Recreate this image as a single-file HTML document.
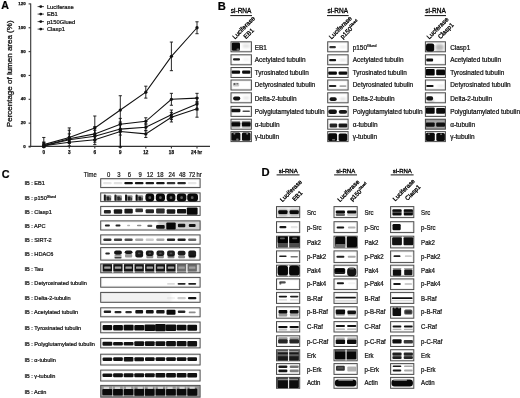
<!DOCTYPE html><html><head><meta charset="utf-8"><style>html,body{margin:0;padding:0;background:#fff;overflow:hidden;width:520px;height:398px;}svg{display:block;}text{font-family:"Liberation Sans", sans-serif;stroke:#111;stroke-width:0.22px;}</style></head><body>
<svg style="filter:blur(0.3px)" width="520" height="398" viewBox="0 0 520 398">
<defs><filter id="b1" x="-50%" y="-50%" width="200%" height="200%"><feGaussianBlur stdDeviation="0.6"/></filter><filter id="b2" x="-50%" y="-50%" width="200%" height="200%"><feGaussianBlur stdDeviation="0.9"/></filter><filter id="b3" x="-50%" y="-50%" width="200%" height="200%"><feGaussianBlur stdDeviation="1.3"/></filter><filter id="bt" x="-10%" y="-10%" width="120%" height="120%"><feGaussianBlur stdDeviation="0.25"/></filter></defs>
<rect width="520" height="398" fill="#fff"/>
<text x="1.2" y="9.2" font-size="10.6" font-weight="bold" text-anchor="start" fill="#000" >A</text>
<text x="217.7" y="9.8" font-size="11.2" font-weight="bold" text-anchor="start" fill="#000" >B</text>
<text x="1.8" y="178.0" font-size="10.8" font-weight="bold" text-anchor="start" fill="#000" >C</text>
<text x="261.5" y="175.8" font-size="11.2" font-weight="bold" text-anchor="start" fill="#000" >D</text>
<g stroke="#333" stroke-width="1.1" fill="none">
<line x1="30.7" y1="3.5" x2="30.7" y2="146.8"/>
<line x1="28.6" y1="146.4" x2="210" y2="146.4"/>
<line x1="28.6" y1="147.00" x2="30.7" y2="147.00"/>
<line x1="28.6" y1="123.15" x2="30.7" y2="123.15"/>
<line x1="28.6" y1="99.30" x2="30.7" y2="99.30"/>
<line x1="28.6" y1="75.45" x2="30.7" y2="75.45"/>
<line x1="28.6" y1="51.60" x2="30.7" y2="51.60"/>
<line x1="28.6" y1="27.75" x2="30.7" y2="27.75"/>
<line x1="28.6" y1="3.90" x2="30.7" y2="3.90"/>
<line x1="43.8" y1="146.4" x2="43.8" y2="148.4"/>
<line x1="69.3" y1="146.4" x2="69.3" y2="148.4"/>
<line x1="94.8" y1="146.4" x2="94.8" y2="148.4"/>
<line x1="120.3" y1="146.4" x2="120.3" y2="148.4"/>
<line x1="145.8" y1="146.4" x2="145.8" y2="148.4"/>
<line x1="171.4" y1="146.4" x2="171.4" y2="148.4"/>
<line x1="197.0" y1="146.4" x2="197.0" y2="148.4"/>
</g>
<text x="25.6" y="148.1" font-size="4.4" font-weight="bold" text-anchor="end" fill="#111" style="stroke-width:0.25px">0</text>
<text x="25.6" y="124.25" font-size="4.4" font-weight="bold" text-anchor="end" fill="#111" style="stroke-width:0.25px">20</text>
<text x="25.6" y="100.4" font-size="4.4" font-weight="bold" text-anchor="end" fill="#111" style="stroke-width:0.25px">40</text>
<text x="25.6" y="76.55" font-size="4.4" font-weight="bold" text-anchor="end" fill="#111" style="stroke-width:0.25px">60</text>
<text x="25.6" y="52.70000000000001" font-size="4.4" font-weight="bold" text-anchor="end" fill="#111" style="stroke-width:0.25px">80</text>
<text x="25.6" y="28.850000000000016" font-size="4.4" font-weight="bold" text-anchor="end" fill="#111" style="stroke-width:0.25px">100</text>
<text x="25.6" y="5.000000000000005" font-size="4.4" font-weight="bold" text-anchor="end" fill="#111" style="stroke-width:0.25px">120</text>
<text x="43.8" y="154.3" font-size="4.6" font-weight="bold" text-anchor="middle" fill="#111" style="stroke-width:0.25px">0</text>
<text x="69.3" y="154.3" font-size="4.6" font-weight="bold" text-anchor="middle" fill="#111" style="stroke-width:0.25px">3</text>
<text x="94.8" y="154.3" font-size="4.6" font-weight="bold" text-anchor="middle" fill="#111" style="stroke-width:0.25px">6</text>
<text x="120.3" y="154.3" font-size="4.6" font-weight="bold" text-anchor="middle" fill="#111" style="stroke-width:0.25px">9</text>
<text x="145.8" y="154.3" font-size="4.6" font-weight="bold" text-anchor="middle" fill="#111" style="stroke-width:0.25px">12</text>
<text x="171.4" y="154.3" font-size="4.6" font-weight="bold" text-anchor="middle" fill="#111" style="stroke-width:0.25px">18</text>
<text x="196.6" y="154.3" font-size="4.6" font-weight="bold" text-anchor="middle" fill="#111" style="stroke-width:0.25px">24 hr</text>
<text transform="translate(11.7,73.8) rotate(-90)" font-size="8" text-anchor="middle" fill="#111" style="stroke-width:0.3px">Percentage of lumen area (%)</text>
<line x1="37.6" y1="6.6" x2="44" y2="6.6" stroke="#222" stroke-width="0.8"/>
<circle cx="40.8" cy="6.6" r="1.45" fill="#111"/>
<text x="46.9" y="8.6" font-size="5.8" font-weight="normal" text-anchor="start" fill="#111" >Luciferase</text>
<line x1="37.6" y1="14.1" x2="44" y2="14.1" stroke="#222" stroke-width="0.8"/>
<circle cx="40.8" cy="14.1" r="1.45" fill="#111"/>
<text x="46.9" y="16.1" font-size="5.8" font-weight="normal" text-anchor="start" fill="#111" >EB1</text>
<line x1="37.6" y1="21.6" x2="44" y2="21.6" stroke="#222" stroke-width="0.8"/>
<circle cx="40.8" cy="21.6" r="1.45" fill="#111"/>
<text x="46.9" y="23.6" font-size="5.8" font-weight="normal" text-anchor="start" fill="#111" >p150Glued</text>
<line x1="37.6" y1="29.1" x2="44" y2="29.1" stroke="#222" stroke-width="0.8"/>
<circle cx="40.8" cy="29.1" r="1.45" fill="#111"/>
<text x="46.9" y="31.1" font-size="5.8" font-weight="normal" text-anchor="start" fill="#111" >Clasp1</text>
<path d="M43.8,144.62 L69.3,137.46 L94.8,127.92 L120.3,110.03 L145.8,92.15 L171.4,56.37 L197.0,27.75" stroke="#111" stroke-width="1.05" fill="none"/>
<g stroke="#111" stroke-width="0.9"><line x1="43.8" y1="137.46" x2="43.8" y2="147.00"/><line x1="42.199999999999996" y1="137.46" x2="45.4" y2="137.46"/><line x1="42.199999999999996" y1="147.00" x2="45.4" y2="147.00"/></g>
<circle cx="43.8" cy="144.62" r="1.65" fill="#111"/>
<g stroke="#111" stroke-width="0.9"><line x1="69.3" y1="127.92" x2="69.3" y2="142.23"/><line x1="67.7" y1="127.92" x2="70.89999999999999" y2="127.92"/><line x1="67.7" y1="142.23" x2="70.89999999999999" y2="142.23"/></g>
<circle cx="69.3" cy="137.46" r="1.65" fill="#111"/>
<g stroke="#111" stroke-width="0.9"><line x1="94.8" y1="116.00" x2="94.8" y2="139.84"/><line x1="93.2" y1="116.00" x2="96.39999999999999" y2="116.00"/><line x1="93.2" y1="139.84" x2="96.39999999999999" y2="139.84"/></g>
<circle cx="94.8" cy="127.92" r="1.65" fill="#111"/>
<g stroke="#111" stroke-width="0.9"><line x1="120.3" y1="95.72" x2="120.3" y2="147.00"/><line x1="118.7" y1="95.72" x2="121.89999999999999" y2="95.72"/><line x1="118.7" y1="147.00" x2="121.89999999999999" y2="147.00"/></g>
<circle cx="120.3" cy="110.03" r="1.65" fill="#111"/>
<g stroke="#111" stroke-width="0.9"><line x1="145.8" y1="86.18" x2="145.8" y2="98.11"/><line x1="144.20000000000002" y1="86.18" x2="147.4" y2="86.18"/><line x1="144.20000000000002" y1="98.11" x2="147.4" y2="98.11"/></g>
<circle cx="145.8" cy="92.15" r="1.65" fill="#111"/>
<g stroke="#111" stroke-width="0.9"><line x1="171.4" y1="42.06" x2="171.4" y2="70.68"/><line x1="169.8" y1="42.06" x2="173.0" y2="42.06"/><line x1="169.8" y1="70.68" x2="173.0" y2="70.68"/></g>
<circle cx="171.4" cy="56.37" r="1.65" fill="#111"/>
<g stroke="#111" stroke-width="0.9"><line x1="197.0" y1="21.79" x2="197.0" y2="33.71"/><line x1="195.4" y1="21.79" x2="198.6" y2="21.79"/><line x1="195.4" y1="33.71" x2="198.6" y2="33.71"/></g>
<circle cx="197.0" cy="27.75" r="1.65" fill="#111"/>
<path d="M43.8,145.81 L69.3,138.65 L94.8,133.88 L120.3,124.34 L145.8,121.36 L171.4,99.30 L197.0,98.11" stroke="#111" stroke-width="1.05" fill="none"/>
<g stroke="#111" stroke-width="0.9"><line x1="43.8" y1="142.23" x2="43.8" y2="147.00"/><line x1="42.199999999999996" y1="142.23" x2="45.4" y2="142.23"/><line x1="42.199999999999996" y1="147.00" x2="45.4" y2="147.00"/></g>
<circle cx="43.8" cy="145.81" r="1.65" fill="#111"/>
<g stroke="#111" stroke-width="0.9"><line x1="69.3" y1="130.31" x2="69.3" y2="142.23"/><line x1="67.7" y1="130.31" x2="70.89999999999999" y2="130.31"/><line x1="67.7" y1="142.23" x2="70.89999999999999" y2="142.23"/></g>
<circle cx="69.3" cy="138.65" r="1.65" fill="#111"/>
<g stroke="#111" stroke-width="0.9"><line x1="94.8" y1="126.73" x2="94.8" y2="139.84"/><line x1="93.2" y1="126.73" x2="96.39999999999999" y2="126.73"/><line x1="93.2" y1="139.84" x2="96.39999999999999" y2="139.84"/></g>
<circle cx="94.8" cy="133.88" r="1.65" fill="#111"/>
<g stroke="#111" stroke-width="0.9"><line x1="120.3" y1="118.38" x2="120.3" y2="130.31"/><line x1="118.7" y1="118.38" x2="121.89999999999999" y2="118.38"/><line x1="118.7" y1="130.31" x2="121.89999999999999" y2="130.31"/></g>
<circle cx="120.3" cy="124.34" r="1.65" fill="#111"/>
<g stroke="#111" stroke-width="0.9"><line x1="145.8" y1="117.78" x2="145.8" y2="124.94"/><line x1="144.20000000000002" y1="117.78" x2="147.4" y2="117.78"/><line x1="144.20000000000002" y1="124.94" x2="147.4" y2="124.94"/></g>
<circle cx="145.8" cy="121.36" r="1.65" fill="#111"/>
<g stroke="#111" stroke-width="0.9"><line x1="171.4" y1="93.34" x2="171.4" y2="105.26"/><line x1="169.8" y1="93.34" x2="173.0" y2="93.34"/><line x1="169.8" y1="105.26" x2="173.0" y2="105.26"/></g>
<circle cx="171.4" cy="99.30" r="1.65" fill="#111"/>
<g stroke="#111" stroke-width="0.9"><line x1="197.0" y1="93.34" x2="197.0" y2="102.88"/><line x1="195.4" y1="93.34" x2="198.6" y2="93.34"/><line x1="195.4" y1="102.88" x2="198.6" y2="102.88"/></g>
<circle cx="197.0" cy="98.11" r="1.65" fill="#111"/>
<path d="M43.8,145.81 L69.3,139.84 L94.8,136.27 L120.3,129.11 L145.8,127.32 L171.4,114.80 L197.0,104.07" stroke="#111" stroke-width="1.05" fill="none"/>
<g stroke="#111" stroke-width="0.9"><line x1="43.8" y1="142.23" x2="43.8" y2="147.00"/><line x1="42.199999999999996" y1="142.23" x2="45.4" y2="142.23"/><line x1="42.199999999999996" y1="147.00" x2="45.4" y2="147.00"/></g>
<circle cx="43.8" cy="145.81" r="1.65" fill="#111"/>
<g stroke="#111" stroke-width="0.9"><line x1="69.3" y1="133.88" x2="69.3" y2="143.42"/><line x1="67.7" y1="133.88" x2="70.89999999999999" y2="133.88"/><line x1="67.7" y1="143.42" x2="70.89999999999999" y2="143.42"/></g>
<circle cx="69.3" cy="139.84" r="1.65" fill="#111"/>
<g stroke="#111" stroke-width="0.9"><line x1="94.8" y1="130.31" x2="94.8" y2="142.23"/><line x1="93.2" y1="130.31" x2="96.39999999999999" y2="130.31"/><line x1="93.2" y1="142.23" x2="96.39999999999999" y2="142.23"/></g>
<circle cx="94.8" cy="136.27" r="1.65" fill="#111"/>
<g stroke="#111" stroke-width="0.9"><line x1="120.3" y1="123.15" x2="120.3" y2="135.07"/><line x1="118.7" y1="123.15" x2="121.89999999999999" y2="123.15"/><line x1="118.7" y1="135.07" x2="121.89999999999999" y2="135.07"/></g>
<circle cx="120.3" cy="129.11" r="1.65" fill="#111"/>
<g stroke="#111" stroke-width="0.9"><line x1="145.8" y1="123.75" x2="145.8" y2="130.90"/><line x1="144.20000000000002" y1="123.75" x2="147.4" y2="123.75"/><line x1="144.20000000000002" y1="130.90" x2="147.4" y2="130.90"/></g>
<circle cx="145.8" cy="127.32" r="1.65" fill="#111"/>
<g stroke="#111" stroke-width="0.9"><line x1="171.4" y1="110.03" x2="171.4" y2="119.57"/><line x1="169.8" y1="110.03" x2="173.0" y2="110.03"/><line x1="169.8" y1="119.57" x2="173.0" y2="119.57"/></g>
<circle cx="171.4" cy="114.80" r="1.65" fill="#111"/>
<g stroke="#111" stroke-width="0.9"><line x1="197.0" y1="98.11" x2="197.0" y2="110.03"/><line x1="195.4" y1="98.11" x2="198.6" y2="98.11"/><line x1="195.4" y1="110.03" x2="198.6" y2="110.03"/></g>
<circle cx="197.0" cy="104.07" r="1.65" fill="#111"/>
<path d="M43.8,145.81 L69.3,142.23 L94.8,139.84 L120.3,131.50 L145.8,133.88 L171.4,117.19 L197.0,108.84" stroke="#111" stroke-width="1.05" fill="none"/>
<g stroke="#111" stroke-width="0.9"><line x1="43.8" y1="143.42" x2="43.8" y2="147.00"/><line x1="42.199999999999996" y1="143.42" x2="45.4" y2="143.42"/><line x1="42.199999999999996" y1="147.00" x2="45.4" y2="147.00"/></g>
<circle cx="43.8" cy="145.81" r="1.65" fill="#111"/>
<g stroke="#111" stroke-width="0.9"><line x1="69.3" y1="137.46" x2="69.3" y2="145.81"/><line x1="67.7" y1="137.46" x2="70.89999999999999" y2="137.46"/><line x1="67.7" y1="145.81" x2="70.89999999999999" y2="145.81"/></g>
<circle cx="69.3" cy="142.23" r="1.65" fill="#111"/>
<g stroke="#111" stroke-width="0.9"><line x1="94.8" y1="135.07" x2="94.8" y2="144.62"/><line x1="93.2" y1="135.07" x2="96.39999999999999" y2="135.07"/><line x1="93.2" y1="144.62" x2="96.39999999999999" y2="144.62"/></g>
<circle cx="94.8" cy="139.84" r="1.65" fill="#111"/>
<g stroke="#111" stroke-width="0.9"><line x1="120.3" y1="121.96" x2="120.3" y2="147.00"/><line x1="118.7" y1="121.96" x2="121.89999999999999" y2="121.96"/><line x1="118.7" y1="147.00" x2="121.89999999999999" y2="147.00"/></g>
<circle cx="120.3" cy="131.50" r="1.65" fill="#111"/>
<g stroke="#111" stroke-width="0.9"><line x1="145.8" y1="130.31" x2="145.8" y2="137.46"/><line x1="144.20000000000002" y1="130.31" x2="147.4" y2="130.31"/><line x1="144.20000000000002" y1="137.46" x2="147.4" y2="137.46"/></g>
<circle cx="145.8" cy="133.88" r="1.65" fill="#111"/>
<g stroke="#111" stroke-width="0.9"><line x1="171.4" y1="112.42" x2="171.4" y2="121.96"/><line x1="169.8" y1="112.42" x2="173.0" y2="112.42"/><line x1="169.8" y1="121.96" x2="173.0" y2="121.96"/></g>
<circle cx="171.4" cy="117.19" r="1.65" fill="#111"/>
<g stroke="#111" stroke-width="0.9"><line x1="197.0" y1="101.69" x2="197.0" y2="117.19"/><line x1="195.4" y1="101.69" x2="198.6" y2="101.69"/><line x1="195.4" y1="117.19" x2="198.6" y2="117.19"/></g>
<circle cx="197.0" cy="108.84" r="1.65" fill="#111"/>
<text x="230.79999999999998" y="13.1" font-size="6.5" font-weight="normal" text-anchor="start" fill="#000" style="stroke:#000;stroke-width:0.3px">si-RNA</text>
<line x1="230.29999999999998" y1="15.6" x2="251.99999999999997" y2="15.6" stroke="#111" stroke-width="1.0"/>
<text transform="translate(234.9,39.4) rotate(-45)" font-size="6.3" fill="#000" style="stroke:#000;stroke-width:0.3px">Luciferase</text>
<text transform="translate(246.0,39.2) rotate(-45)" font-size="6.3" fill="#000" style="stroke:#000;stroke-width:0.3px">EB1</text>
<rect x="231.00" y="41.80" width="20.40" height="10.00" fill="none" stroke="#4a4a4a" stroke-width="1.0"/>
<rect x="232.10" y="42.90" width="18.20" height="7.80" fill="none" stroke="#000" stroke-opacity="0.08" stroke-width="0.7"/>
<text x="254.70000000000002" y="49.5" font-size="6.45" font-weight="normal" text-anchor="start" fill="#111" >EB1</text>
<rect x="231.00" y="54.80" width="20.40" height="10.00" fill="none" stroke="#4a4a4a" stroke-width="1.0"/>
<rect x="232.10" y="55.90" width="18.20" height="7.80" fill="none" stroke="#000" stroke-opacity="0.08" stroke-width="0.7"/>
<text x="254.70000000000002" y="62.2" font-size="6.45" font-weight="normal" text-anchor="start" fill="#111" >Acetylated tubulin</text>
<rect x="231.00" y="67.50" width="20.40" height="10.00" fill="none" stroke="#4a4a4a" stroke-width="1.0"/>
<rect x="232.10" y="68.60" width="18.20" height="7.80" fill="none" stroke="#000" stroke-opacity="0.08" stroke-width="0.7"/>
<text x="254.70000000000002" y="74.69999999999999" font-size="6.45" font-weight="normal" text-anchor="start" fill="#111" >Tyrosinated tubulin</text>
<rect x="231.00" y="80.00" width="20.40" height="10.00" fill="none" stroke="#4a4a4a" stroke-width="1.0"/>
<rect x="232.10" y="81.10" width="18.20" height="7.80" fill="none" stroke="#000" stroke-opacity="0.08" stroke-width="0.7"/>
<text x="254.70000000000002" y="87.39999999999999" font-size="6.45" font-weight="normal" text-anchor="start" fill="#111" >Detyrosinated tubulin</text>
<rect x="231.00" y="92.80" width="20.40" height="10.00" fill="none" stroke="#4a4a4a" stroke-width="1.0"/>
<rect x="232.10" y="93.90" width="18.20" height="7.80" fill="none" stroke="#000" stroke-opacity="0.08" stroke-width="0.7"/>
<text x="254.70000000000002" y="100.7" font-size="6.45" font-weight="normal" text-anchor="start" fill="#111" >Delta-2-tubulin</text>
<rect x="231.00" y="106.40" width="20.40" height="10.00" fill="none" stroke="#4a4a4a" stroke-width="1.0"/>
<rect x="232.10" y="107.50" width="18.20" height="7.80" fill="none" stroke="#000" stroke-opacity="0.08" stroke-width="0.7"/>
<text x="254.70000000000002" y="113.6" font-size="6.45" font-weight="normal" text-anchor="start" fill="#111" >Polyglutamylated tubulin</text>
<rect x="231.00" y="119.20" width="20.40" height="10.00" fill="none" stroke="#4a4a4a" stroke-width="1.0"/>
<rect x="232.10" y="120.30" width="18.20" height="7.80" fill="none" stroke="#000" stroke-opacity="0.08" stroke-width="0.7"/>
<text x="254.70000000000002" y="126.99999999999999" font-size="6.45" font-weight="normal" text-anchor="start" fill="#111" >&#945;-tubulin</text>
<rect x="231.00" y="131.60" width="20.40" height="10.00" fill="none" stroke="#4a4a4a" stroke-width="1.0"/>
<rect x="232.10" y="132.70" width="18.20" height="7.80" fill="none" stroke="#000" stroke-opacity="0.08" stroke-width="0.7"/>
<text x="254.70000000000002" y="139.1" font-size="6.45" font-weight="normal" text-anchor="start" fill="#111" >&#947;-tubulin</text>
<text x="327.5" y="13.1" font-size="6.5" font-weight="normal" text-anchor="start" fill="#000" style="stroke:#000;stroke-width:0.3px">si-RNA</text>
<line x1="327.0" y1="15.6" x2="348.7" y2="15.6" stroke="#111" stroke-width="1.0"/>
<text transform="translate(331.6,39.4) rotate(-45)" font-size="6.3" fill="#000" style="stroke:#000;stroke-width:0.3px">Luciferase</text>
<text transform="translate(342.7,39.2) rotate(-45)" font-size="6.3" fill="#000" style="stroke:#000;stroke-width:0.3px">p150<tspan font-size="3.6" dy="-2.6">Glued</tspan></text>
<rect x="327.70" y="41.80" width="20.40" height="10.00" fill="none" stroke="#4a4a4a" stroke-width="1.0"/>
<rect x="328.80" y="42.90" width="18.20" height="7.80" fill="none" stroke="#000" stroke-opacity="0.08" stroke-width="0.7"/>
<text x="352.70000000000005" y="49.5" font-size="6.45" font-weight="normal" text-anchor="start" fill="#111" >p150<tspan font-size="3.6" dy="-2.6">Glued</tspan></text>
<rect x="327.70" y="54.80" width="20.40" height="10.00" fill="none" stroke="#4a4a4a" stroke-width="1.0"/>
<rect x="328.80" y="55.90" width="18.20" height="7.80" fill="none" stroke="#000" stroke-opacity="0.08" stroke-width="0.7"/>
<text x="352.70000000000005" y="62.2" font-size="6.45" font-weight="normal" text-anchor="start" fill="#111" >Acetylated tubulin</text>
<rect x="327.70" y="67.50" width="20.40" height="10.00" fill="none" stroke="#4a4a4a" stroke-width="1.0"/>
<rect x="328.80" y="68.60" width="18.20" height="7.80" fill="none" stroke="#000" stroke-opacity="0.08" stroke-width="0.7"/>
<text x="352.70000000000005" y="74.69999999999999" font-size="6.45" font-weight="normal" text-anchor="start" fill="#111" >Tyrosinated tubulin</text>
<rect x="327.70" y="80.00" width="20.40" height="10.00" fill="none" stroke="#4a4a4a" stroke-width="1.0"/>
<rect x="328.80" y="81.10" width="18.20" height="7.80" fill="none" stroke="#000" stroke-opacity="0.08" stroke-width="0.7"/>
<text x="352.70000000000005" y="87.39999999999999" font-size="6.45" font-weight="normal" text-anchor="start" fill="#111" >Detyrosinated tubulin</text>
<rect x="327.70" y="92.80" width="20.40" height="10.00" fill="none" stroke="#4a4a4a" stroke-width="1.0"/>
<rect x="328.80" y="93.90" width="18.20" height="7.80" fill="none" stroke="#000" stroke-opacity="0.08" stroke-width="0.7"/>
<text x="352.70000000000005" y="100.7" font-size="6.45" font-weight="normal" text-anchor="start" fill="#111" >Delta-2-tubulin</text>
<rect x="327.70" y="106.40" width="20.40" height="10.00" fill="none" stroke="#4a4a4a" stroke-width="1.0"/>
<rect x="328.80" y="107.50" width="18.20" height="7.80" fill="none" stroke="#000" stroke-opacity="0.08" stroke-width="0.7"/>
<text x="352.70000000000005" y="113.6" font-size="6.45" font-weight="normal" text-anchor="start" fill="#111" >Polyglutamylated tubulin</text>
<rect x="327.70" y="119.20" width="20.40" height="10.00" fill="none" stroke="#4a4a4a" stroke-width="1.0"/>
<rect x="328.80" y="120.30" width="18.20" height="7.80" fill="none" stroke="#000" stroke-opacity="0.08" stroke-width="0.7"/>
<text x="352.70000000000005" y="126.99999999999999" font-size="6.45" font-weight="normal" text-anchor="start" fill="#111" >&#945;-tubulin</text>
<rect x="327.70" y="131.60" width="20.40" height="10.00" fill="none" stroke="#4a4a4a" stroke-width="1.0"/>
<rect x="328.80" y="132.70" width="18.20" height="7.80" fill="none" stroke="#000" stroke-opacity="0.08" stroke-width="0.7"/>
<text x="352.70000000000005" y="139.1" font-size="6.45" font-weight="normal" text-anchor="start" fill="#111" >&#947;-tubulin</text>
<text x="425.2" y="13.1" font-size="6.5" font-weight="normal" text-anchor="start" fill="#000" style="stroke:#000;stroke-width:0.3px">si-RNA</text>
<line x1="424.7" y1="15.6" x2="446.0" y2="15.6" stroke="#111" stroke-width="1.0"/>
<text transform="translate(429.3,39.4) rotate(-45)" font-size="6.3" fill="#000" style="stroke:#000;stroke-width:0.3px">Lucferase</text>
<text transform="translate(440.4,39.2) rotate(-45)" font-size="6.3" fill="#000" style="stroke:#000;stroke-width:0.3px">Clasp1</text>
<rect x="425.40" y="41.80" width="20.00" height="10.00" fill="none" stroke="#4a4a4a" stroke-width="1.0"/>
<rect x="426.50" y="42.90" width="17.80" height="7.80" fill="none" stroke="#000" stroke-opacity="0.08" stroke-width="0.7"/>
<text x="450.2" y="49.5" font-size="6.45" font-weight="normal" text-anchor="start" fill="#111" >Clasp1</text>
<rect x="425.40" y="54.80" width="20.00" height="10.00" fill="none" stroke="#4a4a4a" stroke-width="1.0"/>
<rect x="426.50" y="55.90" width="17.80" height="7.80" fill="none" stroke="#000" stroke-opacity="0.08" stroke-width="0.7"/>
<text x="450.2" y="62.2" font-size="6.45" font-weight="normal" text-anchor="start" fill="#111" >Acetylated tubulin</text>
<rect x="425.40" y="67.50" width="20.00" height="10.00" fill="none" stroke="#4a4a4a" stroke-width="1.0"/>
<rect x="426.50" y="68.60" width="17.80" height="7.80" fill="none" stroke="#000" stroke-opacity="0.08" stroke-width="0.7"/>
<text x="450.2" y="74.69999999999999" font-size="6.45" font-weight="normal" text-anchor="start" fill="#111" >Tyrosinated tubulin</text>
<rect x="425.40" y="80.00" width="20.00" height="10.00" fill="none" stroke="#4a4a4a" stroke-width="1.0"/>
<rect x="426.50" y="81.10" width="17.80" height="7.80" fill="none" stroke="#000" stroke-opacity="0.08" stroke-width="0.7"/>
<text x="450.2" y="87.39999999999999" font-size="6.45" font-weight="normal" text-anchor="start" fill="#111" >Detyrosinated tubulin</text>
<rect x="425.40" y="92.80" width="20.00" height="10.00" fill="none" stroke="#4a4a4a" stroke-width="1.0"/>
<rect x="426.50" y="93.90" width="17.80" height="7.80" fill="none" stroke="#000" stroke-opacity="0.08" stroke-width="0.7"/>
<text x="450.2" y="100.7" font-size="6.45" font-weight="normal" text-anchor="start" fill="#111" >Delta-2-tubulin</text>
<rect x="425.40" y="106.40" width="20.00" height="10.00" fill="none" stroke="#4a4a4a" stroke-width="1.0"/>
<rect x="426.50" y="107.50" width="17.80" height="7.80" fill="none" stroke="#000" stroke-opacity="0.08" stroke-width="0.7"/>
<text x="450.2" y="113.6" font-size="6.45" font-weight="normal" text-anchor="start" fill="#111" >Polyglutamylated tubulin</text>
<rect x="425.40" y="119.20" width="20.00" height="10.00" fill="none" stroke="#4a4a4a" stroke-width="1.0"/>
<rect x="426.50" y="120.30" width="17.80" height="7.80" fill="none" stroke="#000" stroke-opacity="0.08" stroke-width="0.7"/>
<text x="450.2" y="126.99999999999999" font-size="6.45" font-weight="normal" text-anchor="start" fill="#111" >&#945;-tubulin</text>
<rect x="425.40" y="131.60" width="20.00" height="10.00" fill="none" stroke="#4a4a4a" stroke-width="1.0"/>
<rect x="426.50" y="132.70" width="17.80" height="7.80" fill="none" stroke="#000" stroke-opacity="0.08" stroke-width="0.7"/>
<text x="450.2" y="139.1" font-size="6.45" font-weight="normal" text-anchor="start" fill="#111" >&#947;-tubulin</text>
<rect x="100.70" y="178.70" width="99.40" height="8.90" fill="none" stroke="#4a4a4a" stroke-width="1.0"/>
<rect x="101.80" y="179.80" width="97.20" height="6.70" fill="none" stroke="#000" stroke-opacity="0.08" stroke-width="0.7"/>
<text x="24.4" y="185.4" font-size="5.6" font-weight="normal" text-anchor="start" fill="#111" >IB : EB1</text>
<rect x="100.70" y="192.90" width="99.40" height="8.70" fill="none" stroke="#4a4a4a" stroke-width="1.0"/>
<rect x="101.80" y="194.00" width="97.20" height="6.50" fill="none" stroke="#000" stroke-opacity="0.08" stroke-width="0.7"/>
<text x="24.4" y="199.79999999999998" font-size="5.6" font-weight="normal" text-anchor="start" fill="#111" >IB : p150<tspan font-size="3.4" dy="-2.2">Glued</tspan></text>
<rect x="100.70" y="206.40" width="99.40" height="9.00" fill="none" stroke="#4a4a4a" stroke-width="1.0"/>
<rect x="101.80" y="207.50" width="97.20" height="6.80" fill="none" stroke="#000" stroke-opacity="0.08" stroke-width="0.7"/>
<text x="24.4" y="213.5" font-size="5.6" font-weight="normal" text-anchor="start" fill="#111" >IB : Clasp1</text>
<rect x="100.70" y="220.90" width="99.40" height="9.10" fill="none" stroke="#4a4a4a" stroke-width="1.0"/>
<rect x="101.80" y="222.00" width="97.20" height="6.90" fill="none" stroke="#000" stroke-opacity="0.08" stroke-width="0.7"/>
<text x="24.4" y="227.7" font-size="5.6" font-weight="normal" text-anchor="start" fill="#111" >IB : APC</text>
<rect x="100.70" y="234.90" width="99.40" height="9.30" fill="none" stroke="#4a4a4a" stroke-width="1.0"/>
<rect x="101.80" y="236.00" width="97.20" height="7.10" fill="none" stroke="#000" stroke-opacity="0.08" stroke-width="0.7"/>
<text x="24.4" y="241.6" font-size="5.6" font-weight="normal" text-anchor="start" fill="#111" >IB : SIRT-2</text>
<rect x="100.70" y="247.60" width="99.40" height="12.50" fill="none" stroke="#4a4a4a" stroke-width="1.0"/>
<rect x="101.80" y="248.70" width="97.20" height="10.30" fill="none" stroke="#000" stroke-opacity="0.08" stroke-width="0.7"/>
<text x="24.4" y="255.79999999999998" font-size="5.6" font-weight="normal" text-anchor="start" fill="#111" >IB : HDAC6</text>
<rect x="100.70" y="263.90" width="99.40" height="8.90" fill="none" stroke="#4a4a4a" stroke-width="1.0"/>
<rect x="101.80" y="265.00" width="97.20" height="6.70" fill="none" stroke="#000" stroke-opacity="0.08" stroke-width="0.7"/>
<text x="24.4" y="271.20000000000005" font-size="5.6" font-weight="normal" text-anchor="start" fill="#111" >IB : Tau</text>
<rect x="100.70" y="277.40" width="99.40" height="9.80" fill="none" stroke="#4a4a4a" stroke-width="1.0"/>
<rect x="101.80" y="278.50" width="97.20" height="7.60" fill="none" stroke="#000" stroke-opacity="0.08" stroke-width="0.7"/>
<text x="24.4" y="284.6" font-size="5.6" font-weight="normal" text-anchor="start" fill="#111" >IB : Detyrosinated tubulin</text>
<rect x="100.70" y="292.40" width="99.40" height="9.90" fill="none" stroke="#4a4a4a" stroke-width="1.0"/>
<rect x="101.80" y="293.50" width="97.20" height="7.70" fill="none" stroke="#000" stroke-opacity="0.08" stroke-width="0.7"/>
<text x="24.4" y="300.20000000000005" font-size="5.6" font-weight="normal" text-anchor="start" fill="#111" >IB : Delta-2-tubulin</text>
<rect x="100.70" y="307.80" width="99.40" height="9.00" fill="none" stroke="#4a4a4a" stroke-width="1.0"/>
<rect x="101.80" y="308.90" width="97.20" height="6.80" fill="none" stroke="#000" stroke-opacity="0.08" stroke-width="0.7"/>
<text x="24.4" y="313.90000000000003" font-size="5.6" font-weight="normal" text-anchor="start" fill="#111" >IB : Acetylated tubulin</text>
<rect x="100.70" y="322.00" width="99.40" height="10.80" fill="none" stroke="#4a4a4a" stroke-width="1.0"/>
<rect x="101.80" y="323.10" width="97.20" height="8.60" fill="none" stroke="#000" stroke-opacity="0.08" stroke-width="0.7"/>
<text x="24.4" y="329.90000000000003" font-size="5.6" font-weight="normal" text-anchor="start" fill="#111" >IB : Tyrosinated tubulin</text>
<rect x="100.70" y="338.40" width="99.40" height="9.50" fill="none" stroke="#4a4a4a" stroke-width="1.0"/>
<rect x="101.80" y="339.50" width="97.20" height="7.30" fill="none" stroke="#000" stroke-opacity="0.08" stroke-width="0.7"/>
<text x="24.4" y="346.40000000000003" font-size="5.6" font-weight="normal" text-anchor="start" fill="#111" >IB : Polyglutamylated tubulin</text>
<rect x="100.70" y="354.20" width="99.40" height="10.80" fill="none" stroke="#4a4a4a" stroke-width="1.0"/>
<rect x="101.80" y="355.30" width="97.20" height="8.60" fill="none" stroke="#000" stroke-opacity="0.08" stroke-width="0.7"/>
<text x="24.4" y="361.6" font-size="5.6" font-weight="normal" text-anchor="start" fill="#111" >IB : &#945;-tubulin</text>
<rect x="100.70" y="370.10" width="99.40" height="10.90" fill="none" stroke="#4a4a4a" stroke-width="1.0"/>
<rect x="101.80" y="371.20" width="97.20" height="8.70" fill="none" stroke="#000" stroke-opacity="0.08" stroke-width="0.7"/>
<text x="24.4" y="377.6" font-size="5.6" font-weight="normal" text-anchor="start" fill="#111" >IB : &#947;-tubulin</text>
<rect x="100.70" y="385.40" width="99.40" height="11.80" fill="none" stroke="#4a4a4a" stroke-width="1.0"/>
<rect x="101.80" y="386.50" width="97.20" height="9.60" fill="none" stroke="#000" stroke-opacity="0.08" stroke-width="0.7"/>
<text x="24.4" y="393.6" font-size="5.6" font-weight="normal" text-anchor="start" fill="#111" >IB : Actin</text>
<text transform="translate(90.30,176.5) scale(0.78,1)" font-size="7.6" text-anchor="middle" fill="#111">Time</text>
<text transform="translate(108.60,176.5) scale(0.78,1)" font-size="7.6" text-anchor="middle" fill="#111">0</text>
<text transform="translate(118.90,176.5) scale(0.78,1)" font-size="7.6" text-anchor="middle" fill="#111">3</text>
<text transform="translate(129.30,176.5) scale(0.78,1)" font-size="7.6" text-anchor="middle" fill="#111">6</text>
<text transform="translate(140.10,176.5) scale(0.78,1)" font-size="7.6" text-anchor="middle" fill="#111">9</text>
<text transform="translate(150.00,176.5) scale(0.78,1)" font-size="7.6" text-anchor="middle" fill="#111">12</text>
<text transform="translate(160.30,176.5) scale(0.78,1)" font-size="7.6" text-anchor="middle" fill="#111">18</text>
<text transform="translate(171.70,176.5) scale(0.78,1)" font-size="7.6" text-anchor="middle" fill="#111">24</text>
<text transform="translate(182.20,176.5) scale(0.78,1)" font-size="7.6" text-anchor="middle" fill="#111">48</text>
<text transform="translate(192.10,176.5) scale(0.78,1)" font-size="7.6" text-anchor="middle" fill="#111">72</text>
<text transform="translate(199.00,176.5) scale(0.78,1)" font-size="7.6" text-anchor="middle" fill="#111">hr</text>
<text x="278.70000000000005" y="173.2" font-size="6.0" font-weight="normal" text-anchor="start" fill="#000" style="stroke:#000;stroke-width:0.32px">si-RNA</text>
<line x1="276.6" y1="174.9" x2="299.5" y2="174.9" stroke="#111" stroke-width="1.0"/>
<text transform="translate(282.40000000000003,202.2) rotate(-45)" font-size="6.1" fill="#000" style="stroke:#000;stroke-width:0.3px">Luciferase</text>
<text transform="translate(294.70000000000005,201.6) rotate(-45)" font-size="6.1" fill="#000" style="stroke:#000;stroke-width:0.3px">EB1</text>
<rect x="276.50" y="206.60" width="23.20" height="11.00" fill="none" stroke="#4a4a4a" stroke-width="1.0"/>
<rect x="277.60" y="207.70" width="21.00" height="8.80" fill="none" stroke="#000" stroke-opacity="0.08" stroke-width="0.7"/>
<text transform="translate(307.00,215.00) scale(0.92,1)" font-size="6.6" fill="#111">Src</text>
<rect x="276.50" y="221.70" width="23.20" height="10.90" fill="none" stroke="#4a4a4a" stroke-width="1.0"/>
<rect x="277.60" y="222.80" width="21.00" height="8.70" fill="none" stroke="#000" stroke-opacity="0.08" stroke-width="0.7"/>
<text transform="translate(307.00,230.15) scale(0.92,1)" font-size="6.6" fill="#111">p-Src</text>
<rect x="276.50" y="236.20" width="23.20" height="11.70" fill="none" stroke="#4a4a4a" stroke-width="1.0"/>
<rect x="277.60" y="237.30" width="21.00" height="9.50" fill="none" stroke="#000" stroke-opacity="0.08" stroke-width="0.7"/>
<text transform="translate(307.00,244.95) scale(0.92,1)" font-size="6.6" fill="#111">Pak2</text>
<rect x="276.50" y="250.90" width="23.20" height="11.70" fill="none" stroke="#4a4a4a" stroke-width="1.0"/>
<rect x="277.60" y="252.00" width="21.00" height="9.50" fill="none" stroke="#000" stroke-opacity="0.08" stroke-width="0.7"/>
<text transform="translate(307.00,259.35) scale(0.92,1)" font-size="6.6" fill="#111">p-Pak2</text>
<rect x="276.50" y="265.20" width="23.20" height="11.00" fill="none" stroke="#4a4a4a" stroke-width="1.0"/>
<rect x="277.60" y="266.30" width="21.00" height="8.80" fill="none" stroke="#000" stroke-opacity="0.08" stroke-width="0.7"/>
<text transform="translate(307.00,273.40) scale(0.92,1)" font-size="6.6" fill="#111">Pak4</text>
<rect x="276.50" y="278.90" width="23.20" height="10.70" fill="none" stroke="#4a4a4a" stroke-width="1.0"/>
<rect x="277.60" y="280.00" width="21.00" height="8.50" fill="none" stroke="#000" stroke-opacity="0.08" stroke-width="0.7"/>
<text transform="translate(307.00,286.35) scale(0.92,1)" font-size="6.6" fill="#111">p-Pak4</text>
<rect x="276.50" y="292.40" width="23.20" height="11.00" fill="none" stroke="#4a4a4a" stroke-width="1.0"/>
<rect x="277.60" y="293.50" width="21.00" height="8.80" fill="none" stroke="#000" stroke-opacity="0.08" stroke-width="0.7"/>
<text transform="translate(307.00,300.50) scale(0.92,1)" font-size="6.6" fill="#111">B-Raf</text>
<rect x="276.50" y="306.80" width="23.20" height="11.40" fill="none" stroke="#4a4a4a" stroke-width="1.0"/>
<rect x="277.60" y="307.90" width="21.00" height="9.20" fill="none" stroke="#000" stroke-opacity="0.08" stroke-width="0.7"/>
<text transform="translate(307.00,314.30) scale(0.92,1)" font-size="6.6" fill="#111">p-B-Raf</text>
<rect x="276.50" y="321.60" width="23.20" height="10.40" fill="none" stroke="#4a4a4a" stroke-width="1.0"/>
<rect x="277.60" y="322.70" width="21.00" height="8.20" fill="none" stroke="#000" stroke-opacity="0.08" stroke-width="0.7"/>
<text transform="translate(307.00,329.40) scale(0.92,1)" font-size="6.6" fill="#111">C-Raf</text>
<rect x="276.50" y="335.80" width="23.20" height="10.70" fill="none" stroke="#4a4a4a" stroke-width="1.0"/>
<rect x="277.60" y="336.90" width="21.00" height="8.50" fill="none" stroke="#000" stroke-opacity="0.08" stroke-width="0.7"/>
<text transform="translate(307.00,343.65) scale(0.92,1)" font-size="6.6" fill="#111">p-C-Raf</text>
<rect x="276.50" y="349.70" width="23.20" height="11.10" fill="none" stroke="#4a4a4a" stroke-width="1.0"/>
<rect x="277.60" y="350.80" width="21.00" height="8.90" fill="none" stroke="#000" stroke-opacity="0.08" stroke-width="0.7"/>
<text transform="translate(307.00,357.75) scale(0.92,1)" font-size="6.6" fill="#111">Erk</text>
<rect x="276.50" y="363.60" width="23.20" height="10.80" fill="none" stroke="#4a4a4a" stroke-width="1.0"/>
<rect x="277.60" y="364.70" width="21.00" height="8.60" fill="none" stroke="#000" stroke-opacity="0.08" stroke-width="0.7"/>
<text transform="translate(307.00,371.50) scale(0.92,1)" font-size="6.6" fill="#111">p-Erk</text>
<rect x="276.50" y="377.40" width="23.20" height="10.90" fill="none" stroke="#4a4a4a" stroke-width="1.0"/>
<rect x="277.60" y="378.50" width="21.00" height="8.70" fill="none" stroke="#000" stroke-opacity="0.08" stroke-width="0.7"/>
<text transform="translate(307.00,385.35) scale(0.92,1)" font-size="6.6" fill="#111">Actin</text>
<text x="336.20000000000005" y="173.2" font-size="6.0" font-weight="normal" text-anchor="start" fill="#000" style="stroke:#000;stroke-width:0.32px">si-RNA</text>
<line x1="334.1" y1="174.9" x2="357.0" y2="174.9" stroke="#111" stroke-width="1.0"/>
<text transform="translate(339.90000000000003,202.2) rotate(-45)" font-size="6.1" fill="#000" style="stroke:#000;stroke-width:0.3px">Luciferase</text>
<text transform="translate(352.20000000000005,201.6) rotate(-45)" font-size="6.1" fill="#000" style="stroke:#000;stroke-width:0.3px">p150<tspan font-size="3.6" dy="-2.6">Glued</tspan></text>
<rect x="334.00" y="206.60" width="23.20" height="11.00" fill="none" stroke="#4a4a4a" stroke-width="1.0"/>
<rect x="335.10" y="207.70" width="21.00" height="8.80" fill="none" stroke="#000" stroke-opacity="0.08" stroke-width="0.7"/>
<text transform="translate(364.50,215.00) scale(0.92,1)" font-size="6.6" fill="#111">Src</text>
<rect x="334.00" y="221.70" width="23.20" height="10.90" fill="none" stroke="#4a4a4a" stroke-width="1.0"/>
<rect x="335.10" y="222.80" width="21.00" height="8.70" fill="none" stroke="#000" stroke-opacity="0.08" stroke-width="0.7"/>
<text transform="translate(364.50,230.15) scale(0.92,1)" font-size="6.6" fill="#111">p-Src</text>
<rect x="334.00" y="236.20" width="23.20" height="11.70" fill="none" stroke="#4a4a4a" stroke-width="1.0"/>
<rect x="335.10" y="237.30" width="21.00" height="9.50" fill="none" stroke="#000" stroke-opacity="0.08" stroke-width="0.7"/>
<text transform="translate(364.50,244.95) scale(0.92,1)" font-size="6.6" fill="#111">Pak2</text>
<rect x="334.00" y="250.90" width="23.20" height="11.70" fill="none" stroke="#4a4a4a" stroke-width="1.0"/>
<rect x="335.10" y="252.00" width="21.00" height="9.50" fill="none" stroke="#000" stroke-opacity="0.08" stroke-width="0.7"/>
<text transform="translate(364.50,259.35) scale(0.92,1)" font-size="6.6" fill="#111">p-Pak2</text>
<rect x="334.00" y="265.20" width="23.20" height="11.00" fill="none" stroke="#4a4a4a" stroke-width="1.0"/>
<rect x="335.10" y="266.30" width="21.00" height="8.80" fill="none" stroke="#000" stroke-opacity="0.08" stroke-width="0.7"/>
<text transform="translate(364.50,273.40) scale(0.92,1)" font-size="6.6" fill="#111">Pak4</text>
<rect x="334.00" y="278.90" width="23.20" height="10.70" fill="none" stroke="#4a4a4a" stroke-width="1.0"/>
<rect x="335.10" y="280.00" width="21.00" height="8.50" fill="none" stroke="#000" stroke-opacity="0.08" stroke-width="0.7"/>
<text transform="translate(364.50,286.35) scale(0.92,1)" font-size="6.6" fill="#111">p-Pak4</text>
<rect x="334.00" y="292.40" width="23.20" height="11.00" fill="none" stroke="#4a4a4a" stroke-width="1.0"/>
<rect x="335.10" y="293.50" width="21.00" height="8.80" fill="none" stroke="#000" stroke-opacity="0.08" stroke-width="0.7"/>
<text transform="translate(364.50,300.50) scale(0.92,1)" font-size="6.6" fill="#111">B-Raf</text>
<rect x="334.00" y="306.80" width="23.20" height="11.40" fill="none" stroke="#4a4a4a" stroke-width="1.0"/>
<rect x="335.10" y="307.90" width="21.00" height="9.20" fill="none" stroke="#000" stroke-opacity="0.08" stroke-width="0.7"/>
<text transform="translate(364.50,314.30) scale(0.92,1)" font-size="6.6" fill="#111">p-B-Raf</text>
<rect x="334.00" y="321.60" width="23.20" height="10.40" fill="none" stroke="#4a4a4a" stroke-width="1.0"/>
<rect x="335.10" y="322.70" width="21.00" height="8.20" fill="none" stroke="#000" stroke-opacity="0.08" stroke-width="0.7"/>
<text transform="translate(364.50,329.40) scale(0.92,1)" font-size="6.6" fill="#111">C-Raf</text>
<rect x="334.00" y="335.80" width="23.20" height="10.70" fill="none" stroke="#4a4a4a" stroke-width="1.0"/>
<rect x="335.10" y="336.90" width="21.00" height="8.50" fill="none" stroke="#000" stroke-opacity="0.08" stroke-width="0.7"/>
<text transform="translate(364.50,343.65) scale(0.92,1)" font-size="6.6" fill="#111">p-C-Raf</text>
<rect x="334.00" y="349.70" width="23.20" height="11.10" fill="none" stroke="#4a4a4a" stroke-width="1.0"/>
<rect x="335.10" y="350.80" width="21.00" height="8.90" fill="none" stroke="#000" stroke-opacity="0.08" stroke-width="0.7"/>
<text transform="translate(364.50,357.75) scale(0.92,1)" font-size="6.6" fill="#111">Erk</text>
<rect x="334.00" y="363.60" width="23.20" height="10.80" fill="none" stroke="#4a4a4a" stroke-width="1.0"/>
<rect x="335.10" y="364.70" width="21.00" height="8.60" fill="none" stroke="#000" stroke-opacity="0.08" stroke-width="0.7"/>
<text transform="translate(364.50,371.50) scale(0.92,1)" font-size="6.6" fill="#111">p-Erk</text>
<rect x="334.00" y="377.40" width="23.20" height="10.90" fill="none" stroke="#4a4a4a" stroke-width="1.0"/>
<rect x="335.10" y="378.50" width="21.00" height="8.70" fill="none" stroke="#000" stroke-opacity="0.08" stroke-width="0.7"/>
<text transform="translate(364.50,385.35) scale(0.92,1)" font-size="6.6" fill="#111">Actin</text>
<text x="392.8" y="173.2" font-size="6.0" font-weight="normal" text-anchor="start" fill="#000" style="stroke:#000;stroke-width:0.32px">si-RNA</text>
<line x1="390.7" y1="174.9" x2="413.59999999999997" y2="174.9" stroke="#111" stroke-width="1.0"/>
<text transform="translate(395.3,201.39999999999998) rotate(-45)" font-size="6.1" fill="#000" style="stroke:#000;stroke-width:0.3px">Luciferase</text>
<text transform="translate(407.6,200.79999999999998) rotate(-45)" font-size="6.1" fill="#000" style="stroke:#000;stroke-width:0.3px">Clasp1</text>
<rect x="390.60" y="206.60" width="23.20" height="11.00" fill="none" stroke="#4a4a4a" stroke-width="1.0"/>
<rect x="391.70" y="207.70" width="21.00" height="8.80" fill="none" stroke="#000" stroke-opacity="0.08" stroke-width="0.7"/>
<text transform="translate(421.10,215.00) scale(0.92,1)" font-size="6.6" fill="#111">Src</text>
<rect x="390.60" y="221.70" width="23.20" height="10.90" fill="none" stroke="#4a4a4a" stroke-width="1.0"/>
<rect x="391.70" y="222.80" width="21.00" height="8.70" fill="none" stroke="#000" stroke-opacity="0.08" stroke-width="0.7"/>
<text transform="translate(421.10,230.15) scale(0.92,1)" font-size="6.6" fill="#111">p-Src</text>
<rect x="390.60" y="236.20" width="23.20" height="11.70" fill="none" stroke="#4a4a4a" stroke-width="1.0"/>
<rect x="391.70" y="237.30" width="21.00" height="9.50" fill="none" stroke="#000" stroke-opacity="0.08" stroke-width="0.7"/>
<text transform="translate(421.10,244.95) scale(0.92,1)" font-size="6.6" fill="#111">Pak2</text>
<rect x="390.60" y="250.90" width="23.20" height="11.70" fill="none" stroke="#4a4a4a" stroke-width="1.0"/>
<rect x="391.70" y="252.00" width="21.00" height="9.50" fill="none" stroke="#000" stroke-opacity="0.08" stroke-width="0.7"/>
<text transform="translate(421.10,259.35) scale(0.92,1)" font-size="6.6" fill="#111">p-Pak2</text>
<rect x="390.60" y="265.20" width="23.20" height="11.00" fill="none" stroke="#4a4a4a" stroke-width="1.0"/>
<rect x="391.70" y="266.30" width="21.00" height="8.80" fill="none" stroke="#000" stroke-opacity="0.08" stroke-width="0.7"/>
<text transform="translate(421.10,273.40) scale(0.92,1)" font-size="6.6" fill="#111">Pak4</text>
<rect x="390.60" y="278.90" width="23.20" height="10.70" fill="none" stroke="#4a4a4a" stroke-width="1.0"/>
<rect x="391.70" y="280.00" width="21.00" height="8.50" fill="none" stroke="#000" stroke-opacity="0.08" stroke-width="0.7"/>
<text transform="translate(421.10,286.35) scale(0.92,1)" font-size="6.6" fill="#111">p-Pak4</text>
<rect x="390.60" y="292.40" width="23.20" height="11.00" fill="none" stroke="#4a4a4a" stroke-width="1.0"/>
<rect x="391.70" y="293.50" width="21.00" height="8.80" fill="none" stroke="#000" stroke-opacity="0.08" stroke-width="0.7"/>
<text transform="translate(421.10,300.50) scale(0.92,1)" font-size="6.6" fill="#111">B-Raf</text>
<rect x="390.60" y="306.80" width="23.20" height="11.40" fill="none" stroke="#4a4a4a" stroke-width="1.0"/>
<rect x="391.70" y="307.90" width="21.00" height="9.20" fill="none" stroke="#000" stroke-opacity="0.08" stroke-width="0.7"/>
<text transform="translate(421.10,314.30) scale(0.92,1)" font-size="6.6" fill="#111">p-B-Raf</text>
<rect x="390.60" y="321.60" width="23.20" height="10.40" fill="none" stroke="#4a4a4a" stroke-width="1.0"/>
<rect x="391.70" y="322.70" width="21.00" height="8.20" fill="none" stroke="#000" stroke-opacity="0.08" stroke-width="0.7"/>
<text transform="translate(421.10,329.40) scale(0.92,1)" font-size="6.6" fill="#111">C-Raf</text>
<rect x="390.60" y="335.80" width="23.20" height="10.70" fill="none" stroke="#4a4a4a" stroke-width="1.0"/>
<rect x="391.70" y="336.90" width="21.00" height="8.50" fill="none" stroke="#000" stroke-opacity="0.08" stroke-width="0.7"/>
<text transform="translate(421.10,343.65) scale(0.92,1)" font-size="6.6" fill="#111">p-C-Raf</text>
<rect x="390.60" y="349.70" width="23.20" height="11.10" fill="none" stroke="#4a4a4a" stroke-width="1.0"/>
<rect x="391.70" y="350.80" width="21.00" height="8.90" fill="none" stroke="#000" stroke-opacity="0.08" stroke-width="0.7"/>
<text transform="translate(421.10,357.75) scale(0.92,1)" font-size="6.6" fill="#111">Erk</text>
<rect x="390.60" y="363.60" width="23.20" height="10.80" fill="none" stroke="#4a4a4a" stroke-width="1.0"/>
<rect x="391.70" y="364.70" width="21.00" height="8.60" fill="none" stroke="#000" stroke-opacity="0.08" stroke-width="0.7"/>
<text transform="translate(421.10,371.50) scale(0.92,1)" font-size="6.6" fill="#111">p-Erk</text>
<rect x="390.60" y="377.40" width="23.20" height="10.90" fill="none" stroke="#4a4a4a" stroke-width="1.0"/>
<rect x="391.70" y="378.50" width="21.00" height="8.70" fill="none" stroke="#000" stroke-opacity="0.08" stroke-width="0.7"/>
<text transform="translate(421.10,385.35) scale(0.92,1)" font-size="6.6" fill="#111">Actin</text>
<rect x="231.80" y="42.60" width="8.20" height="8.20" rx="1.20" fill="#000" fill-opacity="0.97" filter="url(#b1)"/>
<rect x="236.50" y="48.40" width="3.20" height="2.20" rx="1.00" fill="#fff" fill-opacity="0.35" filter="url(#b1)"/>
<rect x="242.70" y="44.00" width="7.00" height="4.00" rx="1.00" fill="#000" fill-opacity="0.1" filter="url(#b2)"/>
<rect x="233.00" y="58.20" width="7.00" height="2.30" rx="1.00" fill="#000" fill-opacity="0.9" filter="url(#b1)"/>
<rect x="242.70" y="58.50" width="7.00" height="2.00" rx="1.00" fill="#000" fill-opacity="0.07" filter="url(#b2)"/>
<rect x="231.70" y="70.50" width="8.40" height="3.20" rx="1.00" fill="#000" fill-opacity="0.97" filter="url(#b1)"/>
<rect x="242.10" y="70.50" width="8.20" height="3.20" rx="1.00" fill="#000" fill-opacity="0.95" filter="url(#b1)"/>
<rect x="233.00" y="82.80" width="6.20" height="3.60" rx="1.00" fill="#000" fill-opacity="0.22" filter="url(#b1)"/>
<rect x="233.50" y="83.00" width="2.00" height="2.00" rx="0.80" fill="#000" fill-opacity="0.55" filter="url(#b1)"/>
<rect x="236.30" y="82.90" width="2.00" height="1.70" rx="0.80" fill="#000" fill-opacity="0.45" filter="url(#b1)"/>
<rect x="233.10" y="96.40" width="7.20" height="4.00" rx="1.80" fill="#000" fill-opacity="0.92" filter="url(#b1)"/>
<rect x="243.20" y="96.50" width="6.00" height="3.00" rx="1.00" fill="#000" fill-opacity="0.1" filter="url(#b2)"/>
<rect x="231.40" y="108.80" width="9.00" height="3.40" rx="1.00" fill="#000" fill-opacity="0.92" filter="url(#b1)"/>
<rect x="242.45" y="110.40" width="7.50" height="1.60" rx="0.80" fill="#000" fill-opacity="0.7" filter="url(#b1)"/>
<rect x="231.40" y="121.00" width="9.00" height="6.60" rx="1.00" fill="#000" fill-opacity="0.45" filter="url(#b1)"/>
<rect x="241.70" y="121.00" width="9.00" height="6.60" rx="1.00" fill="#000" fill-opacity="0.45" filter="url(#b1)"/>
<rect x="231.60" y="122.30" width="8.60" height="4.00" rx="1.00" fill="#000" fill-opacity="0.95" filter="url(#b1)"/>
<rect x="241.90" y="122.30" width="8.60" height="4.00" rx="1.00" fill="#000" fill-opacity="0.95" filter="url(#b1)"/>
<rect x="231.40" y="132.40" width="9.00" height="8.40" rx="1.50" fill="#000" fill-opacity="0.95" filter="url(#b1)"/>
<rect x="241.90" y="132.40" width="8.60" height="8.40" rx="1.50" fill="#000" fill-opacity="0.95" filter="url(#b1)"/>
<rect x="233.40" y="133.00" width="2.00" height="1.40" rx="0.60" fill="#fff" fill-opacity="0.5" filter="url(#b1)"/>
<rect x="246.20" y="133.00" width="2.00" height="1.40" rx="0.60" fill="#fff" fill-opacity="0.5" filter="url(#b1)"/>
<rect x="236.15" y="138.60" width="2.50" height="1.80" rx="0.60" fill="#fff" fill-opacity="0.4" filter="url(#b1)"/>
<rect x="329.30" y="45.90" width="6.60" height="2.40" rx="1.00" fill="#000" fill-opacity="0.8" filter="url(#b1)"/>
<rect x="339.40" y="46.00" width="7.00" height="2.00" rx="1.00" fill="#000" fill-opacity="0.08" filter="url(#b2)"/>
<rect x="329.10" y="58.90" width="7.00" height="2.30" rx="1.00" fill="#000" fill-opacity="0.92" filter="url(#b1)"/>
<rect x="339.40" y="59.00" width="7.00" height="2.00" rx="1.00" fill="#000" fill-opacity="0.12" filter="url(#b2)"/>
<rect x="328.30" y="71.60" width="8.60" height="3.10" rx="1.00" fill="#000" fill-opacity="0.97" filter="url(#b1)"/>
<rect x="338.60" y="71.60" width="8.60" height="3.10" rx="1.00" fill="#000" fill-opacity="0.95" filter="url(#b1)"/>
<rect x="328.85" y="85.00" width="7.50" height="2.10" rx="1.00" fill="#000" fill-opacity="0.85" filter="url(#b1)"/>
<rect x="339.40" y="85.20" width="7.00" height="1.80" rx="0.90" fill="#000" fill-opacity="0.35" filter="url(#b1)"/>
<rect x="329.50" y="97.20" width="7.20" height="3.80" rx="1.80" fill="#000" fill-opacity="0.92" filter="url(#b1)"/>
<rect x="339.90" y="97.50" width="6.00" height="3.00" rx="1.00" fill="#000" fill-opacity="0.12" filter="url(#b2)"/>
<rect x="328.30" y="109.60" width="8.60" height="4.40" rx="2.00" fill="#000" fill-opacity="0.93" filter="url(#b1)"/>
<rect x="338.70" y="109.90" width="8.40" height="3.90" rx="2.00" fill="#000" fill-opacity="0.9" filter="url(#b1)"/>
<rect x="329.65" y="123.60" width="7.50" height="4.00" rx="1.00" fill="#000" fill-opacity="0.85" filter="url(#b1)"/>
<rect x="338.60" y="123.60" width="8.60" height="4.00" rx="1.00" fill="#000" fill-opacity="0.9" filter="url(#b1)"/>
<rect x="328.10" y="133.20" width="9.00" height="7.80" rx="1.50" fill="#000" fill-opacity="0.96" filter="url(#b1)"/>
<rect x="338.60" y="133.40" width="8.60" height="7.60" rx="1.50" fill="#000" fill-opacity="0.96" filter="url(#b1)"/>
<rect x="332.10" y="139.00" width="3.00" height="1.60" rx="0.60" fill="#fff" fill-opacity="0.4" filter="url(#b1)"/>
<rect x="426.00" y="43.40" width="8.20" height="8.00" rx="2.00" fill="#000" fill-opacity="0.97" filter="url(#b1)"/>
<rect x="435.60" y="44.20" width="8.00" height="6.20" rx="2.00" fill="#000" fill-opacity="0.28" filter="url(#b2)"/>
<rect x="426.30" y="58.50" width="6.80" height="3.10" rx="1.00" fill="#000" fill-opacity="0.95" filter="url(#b1)"/>
<rect x="425.90" y="69.00" width="8.80" height="6.40" rx="1.00" fill="#000" fill-opacity="0.98" filter="url(#b1)"/>
<rect x="436.20" y="69.40" width="8.80" height="5.90" rx="1.00" fill="#000" fill-opacity="0.97" filter="url(#b1)"/>
<rect x="426.20" y="84.90" width="7.40" height="2.20" rx="1.00" fill="#000" fill-opacity="0.92" filter="url(#b1)"/>
<rect x="437.10" y="85.00" width="7.00" height="2.00" rx="1.00" fill="#000" fill-opacity="0.1" filter="url(#b2)"/>
<rect x="426.30" y="96.30" width="6.80" height="4.30" rx="1.80" fill="#000" fill-opacity="0.92" filter="url(#b1)"/>
<rect x="427.30" y="100.00" width="7.00" height="2.00" rx="1.00" fill="#000" fill-opacity="0.25" filter="url(#b2)"/>
<rect x="425.90" y="107.50" width="8.80" height="6.30" rx="1.00" fill="#000" fill-opacity="0.96" filter="url(#b1)"/>
<rect x="436.20" y="108.00" width="8.80" height="5.80" rx="1.00" fill="#000" fill-opacity="0.95" filter="url(#b1)"/>
<rect x="425.5" y="119.3" width="19.8" height="9.8" fill="#000" fill-opacity="0.35" filter="url(#b1)"/>
<rect x="425.90" y="122.40" width="8.80" height="4.40" rx="1.00" fill="#000" fill-opacity="0.9" filter="url(#b1)"/>
<rect x="436.20" y="122.40" width="8.80" height="4.40" rx="1.00" fill="#000" fill-opacity="0.9" filter="url(#b1)"/>
<rect x="425.80" y="132.80" width="9.00" height="8.20" rx="1.50" fill="#000" fill-opacity="0.96" filter="url(#b1)"/>
<rect x="436.30" y="133.00" width="8.60" height="8.00" rx="1.50" fill="#000" fill-opacity="0.96" filter="url(#b1)"/>
<rect x="427.80" y="133.40" width="2.00" height="1.40" rx="0.60" fill="#fff" fill-opacity="0.5" filter="url(#b1)"/>
<rect x="440.10" y="133.40" width="2.00" height="1.40" rx="0.60" fill="#fff" fill-opacity="0.5" filter="url(#b1)"/>
<rect x="103.10" y="182.00" width="8.60" height="2.20" rx="1.00" fill="#000" fill-opacity="0.1" filter="url(#b1)"/>
<rect x="113.70" y="182.00" width="8.60" height="2.20" rx="1.00" fill="#000" fill-opacity="0.12" filter="url(#b1)"/>
<rect x="124.30" y="182.00" width="8.60" height="2.20" rx="1.00" fill="#000" fill-opacity="0.95" filter="url(#b1)"/>
<rect x="134.90" y="182.00" width="8.60" height="2.20" rx="1.00" fill="#000" fill-opacity="0.92" filter="url(#b1)"/>
<rect x="145.50" y="182.00" width="8.60" height="2.20" rx="1.00" fill="#000" fill-opacity="0.9" filter="url(#b1)"/>
<rect x="156.10" y="182.00" width="8.60" height="2.20" rx="1.00" fill="#000" fill-opacity="0.92" filter="url(#b1)"/>
<rect x="166.70" y="182.00" width="8.60" height="2.20" rx="1.00" fill="#000" fill-opacity="0.8" filter="url(#b1)"/>
<rect x="177.30" y="182.00" width="8.60" height="2.20" rx="1.00" fill="#000" fill-opacity="0.85" filter="url(#b1)"/>
<rect x="187.90" y="182.00" width="8.60" height="2.20" rx="1.00" fill="#000" fill-opacity="0.1" filter="url(#b1)"/>
<rect x="104.10" y="195.20" width="7.20" height="5.60" rx="1.00" fill="#000" fill-opacity="0.45" filter="url(#b1)"/>
<rect x="103.80" y="194.40" width="2.00" height="6.40" rx="0.60" fill="#000" fill-opacity="0.85" filter="url(#b1)"/>
<rect x="106.70" y="196.60" width="2.60" height="4.00" rx="0.60" fill="#000" fill-opacity="0.75" filter="url(#b1)"/>
<rect x="109.50" y="197.60" width="1.40" height="3.00" rx="0.50" fill="#000" fill-opacity="0.6" filter="url(#b1)"/>
<rect x="114.70" y="195.20" width="7.20" height="5.60" rx="1.00" fill="#000" fill-opacity="0.45" filter="url(#b1)"/>
<rect x="114.40" y="194.40" width="2.00" height="6.40" rx="0.60" fill="#000" fill-opacity="0.8" filter="url(#b1)"/>
<rect x="117.30" y="196.60" width="2.60" height="4.00" rx="0.60" fill="#000" fill-opacity="0.7000000000000001" filter="url(#b1)"/>
<rect x="120.10" y="197.60" width="1.40" height="3.00" rx="0.50" fill="#000" fill-opacity="0.6" filter="url(#b1)"/>
<rect x="125.30" y="195.20" width="7.20" height="5.60" rx="1.00" fill="#000" fill-opacity="0.45" filter="url(#b1)"/>
<rect x="125.00" y="194.40" width="2.00" height="6.40" rx="0.60" fill="#000" fill-opacity="0.85" filter="url(#b1)"/>
<rect x="127.90" y="196.60" width="2.60" height="4.00" rx="0.60" fill="#000" fill-opacity="0.75" filter="url(#b1)"/>
<rect x="130.70" y="197.60" width="1.40" height="3.00" rx="0.50" fill="#000" fill-opacity="0.6" filter="url(#b1)"/>
<rect x="135.90" y="195.20" width="7.20" height="5.60" rx="1.00" fill="#000" fill-opacity="0.45" filter="url(#b1)"/>
<rect x="135.60" y="194.40" width="2.00" height="6.40" rx="0.60" fill="#000" fill-opacity="0.92" filter="url(#b1)"/>
<rect x="138.50" y="196.60" width="2.60" height="4.00" rx="0.60" fill="#000" fill-opacity="0.8200000000000001" filter="url(#b1)"/>
<rect x="141.30" y="197.60" width="1.40" height="3.00" rx="0.50" fill="#000" fill-opacity="0.6" filter="url(#b1)"/>
<rect x="145.40" y="193.60" width="8.80" height="8.00" rx="3.00" fill="#000" fill-opacity="0.96" filter="url(#b1)"/>
<rect x="148.50" y="196.30" width="2.60" height="2.70" rx="1.00" fill="#fff" fill-opacity="0.35" filter="url(#b1)"/>
<rect x="155.80" y="193.60" width="9.20" height="8.00" rx="3.00" fill="#000" fill-opacity="0.96" filter="url(#b1)"/>
<rect x="159.10" y="196.30" width="2.60" height="2.70" rx="1.00" fill="#fff" fill-opacity="0.35" filter="url(#b1)"/>
<rect x="166.60" y="193.60" width="8.80" height="8.00" rx="3.00" fill="#000" fill-opacity="0.96" filter="url(#b1)"/>
<rect x="169.70" y="196.30" width="2.60" height="2.70" rx="1.00" fill="#fff" fill-opacity="0.35" filter="url(#b1)"/>
<rect x="176.80" y="193.60" width="9.60" height="8.00" rx="3.00" fill="#000" fill-opacity="0.96" filter="url(#b1)"/>
<rect x="180.30" y="196.30" width="2.60" height="2.70" rx="1.00" fill="#fff" fill-opacity="0.35" filter="url(#b1)"/>
<rect x="187.20" y="193.60" width="10.80" height="8.00" rx="3.00" fill="#000" fill-opacity="0.96" filter="url(#b1)"/>
<rect x="190.90" y="196.30" width="2.60" height="2.70" rx="1.00" fill="#fff" fill-opacity="0.35" filter="url(#b1)"/>
<rect x="103.90" y="209.95" width="7.00" height="3.50" rx="1.00" fill="#000" fill-opacity="0.85" filter="url(#b1)"/>
<rect x="113.80" y="209.20" width="8.40" height="4.60" rx="1.00" fill="#000" fill-opacity="0.9" filter="url(#b1)"/>
<rect x="124.40" y="208.80" width="8.40" height="4.80" rx="1.00" fill="#000" fill-opacity="0.9" filter="url(#b1)"/>
<rect x="135.40" y="208.60" width="7.60" height="3.60" rx="1.00" fill="#000" fill-opacity="0.8" filter="url(#b1)"/>
<rect x="145.60" y="209.20" width="8.40" height="4.00" rx="1.00" fill="#000" fill-opacity="0.85" filter="url(#b1)"/>
<rect x="156.10" y="208.50" width="8.60" height="5.00" rx="1.00" fill="#000" fill-opacity="0.82" filter="url(#b1)"/>
<rect x="166.70" y="209.30" width="8.60" height="4.40" rx="1.00" fill="#000" fill-opacity="0.9" filter="url(#b1)"/>
<rect x="177.00" y="208.90" width="9.20" height="4.60" rx="1.00" fill="#000" fill-opacity="0.92" filter="url(#b1)"/>
<rect x="186.80" y="207.60" width="10.80" height="7.20" rx="1.00" fill="#000" fill-opacity="0.97" filter="url(#b1)"/>
<rect x="158" y="221.2" width="42" height="8.6" fill="#000" fill-opacity="0.18" filter="url(#b2)"/>
<rect x="104.90" y="224.60" width="5.00" height="1.80" rx="0.90" fill="#000" fill-opacity="0.88" filter="url(#b1)"/>
<rect x="115.50" y="224.60" width="5.00" height="1.80" rx="0.90" fill="#000" fill-opacity="0.85" filter="url(#b1)"/>
<rect x="127.10" y="224.80" width="3.00" height="1.40" rx="0.70" fill="#000" fill-opacity="0.3" filter="url(#b1)"/>
<rect x="136.95" y="224.70" width="4.50" height="1.60" rx="0.80" fill="#000" fill-opacity="0.45" filter="url(#b1)"/>
<rect x="147.30" y="224.80" width="5.00" height="2.20" rx="1.00" fill="#000" fill-opacity="0.65" filter="url(#b1)"/>
<rect x="156.10" y="225.00" width="8.60" height="3.80" rx="1.00" fill="#000" fill-opacity="0.92" filter="url(#b1)"/>
<rect x="166.30" y="222.40" width="9.40" height="7.00" rx="1.00" fill="#000" fill-opacity="0.97" filter="url(#b1)"/>
<rect x="177.90" y="223.70" width="7.40" height="3.60" rx="1.00" fill="#000" fill-opacity="0.9" filter="url(#b1)"/>
<rect x="188.80" y="224.00" width="6.80" height="3.00" rx="1.00" fill="#000" fill-opacity="0.9" filter="url(#b1)"/>
<rect x="103.30" y="238.40" width="8.20" height="2.60" rx="1.00" fill="#000" fill-opacity="0.8" filter="url(#b1)"/>
<rect x="113.90" y="238.40" width="8.20" height="2.60" rx="1.00" fill="#000" fill-opacity="0.75" filter="url(#b1)"/>
<rect x="124.50" y="238.40" width="8.20" height="2.60" rx="1.00" fill="#000" fill-opacity="0.7" filter="url(#b1)"/>
<rect x="135.10" y="238.40" width="8.20" height="2.60" rx="1.00" fill="#000" fill-opacity="0.35" filter="url(#b1)"/>
<rect x="145.70" y="238.40" width="8.20" height="2.60" rx="1.00" fill="#000" fill-opacity="0.2" filter="url(#b1)"/>
<rect x="156.30" y="238.40" width="8.20" height="2.60" rx="1.00" fill="#000" fill-opacity="0.35" filter="url(#b1)"/>
<rect x="166.90" y="238.40" width="8.20" height="2.60" rx="1.00" fill="#000" fill-opacity="0.85" filter="url(#b1)"/>
<rect x="177.50" y="238.40" width="8.20" height="2.60" rx="1.00" fill="#000" fill-opacity="0.88" filter="url(#b1)"/>
<rect x="188.10" y="238.40" width="8.20" height="2.60" rx="1.00" fill="#000" fill-opacity="0.6" filter="url(#b1)"/>
<rect x="105.30" y="252.60" width="4.60" height="2.00" rx="1.00" fill="#000" fill-opacity="0.85" filter="url(#b1)"/>
<rect x="114.10" y="250.60" width="7.80" height="4.20" rx="2.00" fill="#000" fill-opacity="0.92" filter="url(#b1)"/>
<rect x="124.70" y="250.60" width="7.80" height="3.40" rx="2.00" fill="#000" fill-opacity="0.9" filter="url(#b1)"/>
<rect x="135.30" y="250.20" width="7.80" height="7.40" rx="2.00" fill="#000" fill-opacity="0.9" filter="url(#b1)"/>
<rect x="145.90" y="250.40" width="7.80" height="5.60" rx="2.00" fill="#000" fill-opacity="0.9" filter="url(#b1)"/>
<rect x="156.50" y="250.40" width="7.80" height="5.60" rx="2.00" fill="#000" fill-opacity="0.88" filter="url(#b1)"/>
<rect x="167.10" y="250.60" width="7.80" height="6.00" rx="2.00" fill="#000" fill-opacity="0.88" filter="url(#b1)"/>
<rect x="177.70" y="250.80" width="7.80" height="4.60" rx="2.00" fill="#000" fill-opacity="0.88" filter="url(#b1)"/>
<rect x="188.30" y="250.60" width="7.80" height="6.60" rx="2.00" fill="#000" fill-opacity="0.9" filter="url(#b1)"/>
<rect x="114.30" y="255.00" width="7.40" height="1.80" rx="1.00" fill="#000" fill-opacity="0.4" filter="url(#b1)"/>
<rect x="114.30" y="257.00" width="7.40" height="1.60" rx="1.00" fill="#000" fill-opacity="0.75" filter="url(#b1)"/>
<rect x="125.00" y="254.00" width="7.20" height="3.60" rx="1.00" fill="#000" fill-opacity="0.4" filter="url(#b1)"/>
<rect x="146.30" y="255.50" width="7.00" height="2.70" rx="1.00" fill="#000" fill-opacity="0.45" filter="url(#b1)"/>
<rect x="156.90" y="255.50" width="7.00" height="2.70" rx="1.00" fill="#000" fill-opacity="0.45" filter="url(#b1)"/>
<rect x="167.50" y="255.50" width="7.00" height="2.70" rx="1.00" fill="#000" fill-opacity="0.45" filter="url(#b1)"/>
<rect x="178.10" y="255.50" width="7.00" height="2.70" rx="1.00" fill="#000" fill-opacity="0.45" filter="url(#b1)"/>
<rect x="188.70" y="255.50" width="7.00" height="2.70" rx="1.00" fill="#000" fill-opacity="0.45" filter="url(#b1)"/>
<rect x="137.90" y="252.60" width="2.60" height="1.60" rx="0.80" fill="#fff" fill-opacity="0.2" filter="url(#b1)"/>
<rect x="148.50" y="252.60" width="2.60" height="1.60" rx="0.80" fill="#fff" fill-opacity="0.2" filter="url(#b1)"/>
<rect x="159.10" y="252.60" width="2.60" height="1.60" rx="0.80" fill="#fff" fill-opacity="0.2" filter="url(#b1)"/>
<rect x="169.70" y="252.60" width="2.60" height="1.60" rx="0.80" fill="#fff" fill-opacity="0.2" filter="url(#b1)"/>
<rect x="100.89999999999999" y="263.9" width="99.0" height="9" fill="#000" fill-opacity="0.15" filter="url(#b1)"/>
<rect x="102.70" y="264.20" width="9.40" height="7.20" rx="0.60" fill="#000" fill-opacity="0.9" filter="url(#b1)"/>
<rect x="104.20" y="266.40" width="6.40" height="2.40" rx="0.50" fill="#fff" fill-opacity="0.6" filter="url(#b1)"/>
<rect x="112.15" y="264" width="1.3" height="8.8" fill="#fff" fill-opacity="0.9" filter="url(#bt)"/>
<rect x="113.30" y="264.20" width="9.40" height="7.20" rx="0.60" fill="#000" fill-opacity="0.9" filter="url(#b1)"/>
<rect x="114.80" y="266.40" width="6.40" height="2.40" rx="0.50" fill="#fff" fill-opacity="0.6" filter="url(#b1)"/>
<rect x="122.75" y="264" width="1.3" height="8.8" fill="#fff" fill-opacity="0.9" filter="url(#bt)"/>
<rect x="123.90" y="264.20" width="9.40" height="7.20" rx="0.60" fill="#000" fill-opacity="0.9" filter="url(#b1)"/>
<rect x="125.40" y="266.40" width="6.40" height="2.40" rx="0.50" fill="#fff" fill-opacity="0.6" filter="url(#b1)"/>
<rect x="133.35" y="264" width="1.3" height="8.8" fill="#fff" fill-opacity="0.9" filter="url(#bt)"/>
<rect x="134.50" y="264.20" width="9.40" height="7.20" rx="0.60" fill="#000" fill-opacity="0.9" filter="url(#b1)"/>
<rect x="136.00" y="266.40" width="6.40" height="2.40" rx="0.50" fill="#fff" fill-opacity="0.6" filter="url(#b1)"/>
<rect x="143.95" y="264" width="1.3" height="8.8" fill="#fff" fill-opacity="0.9" filter="url(#bt)"/>
<rect x="145.10" y="264.20" width="9.40" height="7.20" rx="0.60" fill="#000" fill-opacity="0.9" filter="url(#b1)"/>
<rect x="146.60" y="266.40" width="6.40" height="2.40" rx="0.50" fill="#fff" fill-opacity="0.6" filter="url(#b1)"/>
<rect x="154.55" y="264" width="1.3" height="8.8" fill="#fff" fill-opacity="0.9" filter="url(#bt)"/>
<rect x="155.70" y="264.20" width="9.40" height="7.20" rx="0.60" fill="#000" fill-opacity="0.9" filter="url(#b1)"/>
<rect x="157.20" y="266.40" width="6.40" height="2.40" rx="0.50" fill="#fff" fill-opacity="0.6" filter="url(#b1)"/>
<rect x="165.15" y="264" width="1.3" height="8.8" fill="#fff" fill-opacity="0.9" filter="url(#bt)"/>
<rect x="166.30" y="264.20" width="9.40" height="7.20" rx="0.60" fill="#000" fill-opacity="0.9" filter="url(#b1)"/>
<rect x="167.80" y="266.40" width="6.40" height="2.40" rx="0.50" fill="#fff" fill-opacity="0.6" filter="url(#b1)"/>
<rect x="175.75" y="264" width="1.3" height="8.8" fill="#fff" fill-opacity="0.9" filter="url(#bt)"/>
<rect x="176.90" y="264.20" width="9.40" height="7.20" rx="0.60" fill="#000" fill-opacity="0.5" filter="url(#b1)"/>
<rect x="178.40" y="266.40" width="6.40" height="2.40" rx="0.50" fill="#fff" fill-opacity="0.35" filter="url(#b1)"/>
<rect x="186.35" y="264" width="1.3" height="8.8" fill="#fff" fill-opacity="0.9" filter="url(#bt)"/>
<rect x="187.50" y="264.20" width="9.40" height="7.20" rx="0.60" fill="#000" fill-opacity="0.5" filter="url(#b1)"/>
<rect x="189.00" y="266.40" width="6.40" height="2.40" rx="0.50" fill="#fff" fill-opacity="0.35" filter="url(#b1)"/>
<rect x="167.00" y="282.90" width="8.00" height="1.90" rx="0.95" fill="#000" fill-opacity="0.15" filter="url(#b1)"/>
<rect x="177.60" y="282.90" width="8.00" height="1.90" rx="0.95" fill="#000" fill-opacity="0.85" filter="url(#b1)"/>
<rect x="188.20" y="282.90" width="8.00" height="1.90" rx="0.95" fill="#000" fill-opacity="0.88" filter="url(#b1)"/>
<rect x="101.3" y="293" width="70" height="9" fill="#000" fill-opacity="0.05" filter="url(#b2)"/>
<rect x="166.80" y="296.90" width="8.40" height="2.30" rx="1.00" fill="#000" fill-opacity="0.05" filter="url(#b1)"/>
<rect x="177.40" y="296.90" width="8.40" height="2.30" rx="1.00" fill="#000" fill-opacity="0.2" filter="url(#b1)"/>
<rect x="188.00" y="296.90" width="8.40" height="2.30" rx="1.00" fill="#000" fill-opacity="0.92" filter="url(#b1)"/>
<rect x="103.70" y="310.50" width="7.40" height="2.60" rx="1.00" fill="#000" fill-opacity="0.88" filter="url(#b1)"/>
<rect x="114.50" y="310.90" width="7.00" height="2.40" rx="1.00" fill="#000" fill-opacity="0.85" filter="url(#b1)"/>
<rect x="125.30" y="311.10" width="6.60" height="2.20" rx="1.00" fill="#000" fill-opacity="0.82" filter="url(#b1)"/>
<rect x="135.30" y="310.10" width="7.80" height="3.40" rx="1.00" fill="#000" fill-opacity="0.92" filter="url(#b1)"/>
<rect x="145.90" y="310.10" width="7.80" height="3.40" rx="1.00" fill="#000" fill-opacity="0.92" filter="url(#b1)"/>
<rect x="156.20" y="310.10" width="8.40" height="3.40" rx="1.00" fill="#000" fill-opacity="0.9" filter="url(#b1)"/>
<rect x="166.50" y="309.70" width="9.00" height="5.00" rx="1.00" fill="#000" fill-opacity="0.96" filter="url(#b1)"/>
<rect x="177.80" y="310.50" width="7.60" height="2.60" rx="1.00" fill="#000" fill-opacity="0.85" filter="url(#b1)"/>
<rect x="188.70" y="311.60" width="7.00" height="1.60" rx="0.80" fill="#000" fill-opacity="0.45" filter="url(#b1)"/>
<rect x="102.60" y="325.10" width="9.60" height="5.20" rx="1.00" fill="#000" fill-opacity="0.95" filter="url(#b1)"/>
<rect x="113.10" y="325.00" width="9.80" height="5.40" rx="1.00" fill="#000" fill-opacity="0.95" filter="url(#b1)"/>
<rect x="123.60" y="324.80" width="10.00" height="5.80" rx="1.00" fill="#000" fill-opacity="0.95" filter="url(#b1)"/>
<rect x="134.30" y="325.00" width="9.80" height="5.40" rx="1.00" fill="#000" fill-opacity="0.95" filter="url(#b1)"/>
<rect x="144.50" y="324.40" width="10.60" height="6.60" rx="1.00" fill="#000" fill-opacity="0.95" filter="url(#b1)"/>
<rect x="155.10" y="324.10" width="10.60" height="7.20" rx="1.00" fill="#000" fill-opacity="0.95" filter="url(#b1)"/>
<rect x="165.80" y="324.50" width="10.40" height="6.40" rx="1.00" fill="#000" fill-opacity="0.95" filter="url(#b1)"/>
<rect x="176.70" y="324.80" width="9.80" height="5.80" rx="1.00" fill="#000" fill-opacity="0.95" filter="url(#b1)"/>
<rect x="187.30" y="324.70" width="9.80" height="6.00" rx="1.00" fill="#000" fill-opacity="0.95" filter="url(#b1)"/>
<rect x="102.50" y="341.70" width="9.80" height="4.00" rx="1.00" fill="#000" fill-opacity="0.93" filter="url(#b1)"/>
<rect x="113.10" y="341.90" width="9.80" height="3.60" rx="1.00" fill="#000" fill-opacity="0.93" filter="url(#b1)"/>
<rect x="123.70" y="341.90" width="9.80" height="3.60" rx="1.00" fill="#000" fill-opacity="0.93" filter="url(#b1)"/>
<rect x="134.30" y="341.30" width="9.80" height="4.80" rx="1.00" fill="#000" fill-opacity="0.93" filter="url(#b1)"/>
<rect x="144.90" y="341.30" width="9.80" height="4.80" rx="1.00" fill="#000" fill-opacity="0.93" filter="url(#b1)"/>
<rect x="155.50" y="341.30" width="9.80" height="4.80" rx="1.00" fill="#000" fill-opacity="0.93" filter="url(#b1)"/>
<rect x="166.10" y="341.10" width="9.80" height="5.20" rx="1.00" fill="#000" fill-opacity="0.93" filter="url(#b1)"/>
<rect x="176.70" y="341.10" width="9.80" height="5.20" rx="1.00" fill="#000" fill-opacity="0.93" filter="url(#b1)"/>
<rect x="187.30" y="341.00" width="9.80" height="5.40" rx="1.00" fill="#000" fill-opacity="0.93" filter="url(#b1)"/>
<rect x="102.60" y="357.50" width="9.60" height="3.40" rx="1.00" fill="#000" fill-opacity="0.93" filter="url(#b1)"/>
<rect x="113.20" y="357.30" width="9.60" height="3.80" rx="1.00" fill="#000" fill-opacity="0.93" filter="url(#b1)"/>
<rect x="123.80" y="357.00" width="9.60" height="4.40" rx="1.00" fill="#000" fill-opacity="0.93" filter="url(#b1)"/>
<rect x="134.40" y="357.20" width="9.60" height="4.00" rx="1.00" fill="#000" fill-opacity="0.93" filter="url(#b1)"/>
<rect x="145.00" y="357.30" width="9.60" height="3.80" rx="1.00" fill="#000" fill-opacity="0.93" filter="url(#b1)"/>
<rect x="155.60" y="357.30" width="9.60" height="3.80" rx="1.00" fill="#000" fill-opacity="0.93" filter="url(#b1)"/>
<rect x="166.20" y="357.30" width="9.60" height="3.80" rx="1.00" fill="#000" fill-opacity="0.93" filter="url(#b1)"/>
<rect x="176.80" y="357.30" width="9.60" height="3.80" rx="1.00" fill="#000" fill-opacity="0.93" filter="url(#b1)"/>
<rect x="187.40" y="357.30" width="9.60" height="3.80" rx="1.00" fill="#000" fill-opacity="0.93" filter="url(#b1)"/>
<rect x="102.50" y="373.50" width="9.80" height="3.60" rx="1.00" fill="#000" fill-opacity="0.93" filter="url(#b1)"/>
<rect x="113.10" y="373.30" width="9.80" height="4.00" rx="1.00" fill="#000" fill-opacity="0.93" filter="url(#b1)"/>
<rect x="123.70" y="373.30" width="9.80" height="4.00" rx="1.00" fill="#000" fill-opacity="0.93" filter="url(#b1)"/>
<rect x="134.30" y="373.30" width="9.80" height="4.00" rx="1.00" fill="#000" fill-opacity="0.93" filter="url(#b1)"/>
<rect x="144.90" y="373.30" width="9.80" height="4.00" rx="1.00" fill="#000" fill-opacity="0.93" filter="url(#b1)"/>
<rect x="155.50" y="373.10" width="9.80" height="4.40" rx="1.00" fill="#000" fill-opacity="0.93" filter="url(#b1)"/>
<rect x="166.10" y="373.00" width="9.80" height="4.60" rx="1.00" fill="#000" fill-opacity="0.93" filter="url(#b1)"/>
<rect x="176.70" y="373.00" width="9.80" height="4.60" rx="1.00" fill="#000" fill-opacity="0.93" filter="url(#b1)"/>
<rect x="187.30" y="373.00" width="9.80" height="4.60" rx="1.00" fill="#000" fill-opacity="0.93" filter="url(#b1)"/>
<rect x="101.1" y="386" width="98.60000000000001" height="11" fill="#000" fill-opacity="0.4" filter="url(#b1)"/>
<rect x="102.30" y="389.10" width="10.20" height="6.20" rx="1.00" fill="#000" fill-opacity="0.93" filter="url(#b1)"/>
<rect x="112.90" y="389.00" width="10.20" height="6.40" rx="1.00" fill="#000" fill-opacity="0.93" filter="url(#b1)"/>
<rect x="123.50" y="389.10" width="10.20" height="6.20" rx="1.00" fill="#000" fill-opacity="0.93" filter="url(#b1)"/>
<rect x="134.10" y="388.70" width="10.20" height="7.00" rx="1.00" fill="#000" fill-opacity="0.93" filter="url(#b1)"/>
<rect x="144.70" y="388.70" width="10.20" height="7.00" rx="1.00" fill="#000" fill-opacity="0.93" filter="url(#b1)"/>
<rect x="155.30" y="388.80" width="10.20" height="6.80" rx="1.00" fill="#000" fill-opacity="0.93" filter="url(#b1)"/>
<rect x="165.90" y="388.90" width="10.20" height="6.60" rx="1.00" fill="#000" fill-opacity="0.93" filter="url(#b1)"/>
<rect x="176.50" y="388.80" width="10.20" height="6.80" rx="1.00" fill="#000" fill-opacity="0.93" filter="url(#b1)"/>
<rect x="187.10" y="388.60" width="10.20" height="7.20" rx="1.00" fill="#000" fill-opacity="0.93" filter="url(#b1)"/>
<rect x="103.80" y="386.8" width="5.2" height="2.2" fill="#fff" fill-opacity="0.6" filter="url(#b1)"/>
<rect x="114.90" y="386.8" width="5.2" height="2.2" fill="#fff" fill-opacity="0.6" filter="url(#b1)"/>
<rect x="126.00" y="386.8" width="5.2" height="2.2" fill="#fff" fill-opacity="0.6" filter="url(#b1)"/>
<rect x="137.60" y="386.8" width="5.2" height="2.2" fill="#fff" fill-opacity="0.6" filter="url(#b1)"/>
<rect x="147.70" y="386.8" width="5.2" height="2.2" fill="#fff" fill-opacity="0.6" filter="url(#b1)"/>
<rect x="157.80" y="386.8" width="5.2" height="2.2" fill="#fff" fill-opacity="0.6" filter="url(#b1)"/>
<rect x="167.40" y="386.8" width="5.2" height="2.2" fill="#fff" fill-opacity="0.6" filter="url(#b1)"/>
<rect x="179.50" y="386.8" width="5.2" height="2.2" fill="#fff" fill-opacity="0.6" filter="url(#b1)"/>
<rect x="189.60" y="386.8" width="5.2" height="2.2" fill="#fff" fill-opacity="0.6" filter="url(#b1)"/>
<rect x="112.20" y="386.5" width="0.9" height="10" fill="#fff" fill-opacity="0.5" filter="url(#bt)"/>
<rect x="122.80" y="386.5" width="0.9" height="10" fill="#fff" fill-opacity="0.5" filter="url(#bt)"/>
<rect x="133.40" y="386.5" width="0.9" height="10" fill="#fff" fill-opacity="0.5" filter="url(#bt)"/>
<rect x="144.00" y="386.5" width="0.9" height="10" fill="#fff" fill-opacity="0.5" filter="url(#bt)"/>
<rect x="154.60" y="386.5" width="0.9" height="10" fill="#fff" fill-opacity="0.5" filter="url(#bt)"/>
<rect x="165.20" y="386.5" width="0.9" height="10" fill="#fff" fill-opacity="0.5" filter="url(#bt)"/>
<rect x="175.80" y="386.5" width="0.9" height="10" fill="#fff" fill-opacity="0.5" filter="url(#bt)"/>
<rect x="186.40" y="386.5" width="0.9" height="10" fill="#fff" fill-opacity="0.5" filter="url(#bt)"/>
<rect x="278.10" y="209.00" width="9.60" height="7.00" rx="1.00" fill="#000" fill-opacity="0.35" filter="url(#b2)"/>
<rect x="289.40" y="209.00" width="9.60" height="7.00" rx="1.00" fill="#000" fill-opacity="0.35" filter="url(#b2)"/>
<rect x="278.30" y="210.30" width="9.20" height="3.70" rx="1.00" fill="#000" fill-opacity="0.95" filter="url(#b1)"/>
<rect x="289.60" y="210.30" width="9.20" height="3.70" rx="1.00" fill="#000" fill-opacity="0.95" filter="url(#b1)"/>
<rect x="279.40" y="225.90" width="7.00" height="2.40" rx="1.00" fill="#000" fill-opacity="0.9" filter="url(#b1)"/>
<rect x="290.70" y="225.90" width="7.00" height="2.40" rx="1.00" fill="#000" fill-opacity="0.1" filter="url(#b1)"/>
<rect x="277.60" y="236.60" width="10.60" height="10.60" rx="1.00" fill="#000" fill-opacity="0.7" filter="url(#b1)"/>
<rect x="288.90" y="236.60" width="10.60" height="10.60" rx="1.00" fill="#000" fill-opacity="0.7" filter="url(#b1)"/>
<rect x="277.60" y="236.60" width="10.60" height="6.40" rx="1.00" fill="#000" fill-opacity="0.97" filter="url(#b1)"/>
<rect x="288.90" y="236.60" width="10.60" height="6.40" rx="1.00" fill="#000" fill-opacity="0.97" filter="url(#b1)"/>
<rect x="279.90" y="237.60" width="5.00" height="1.60" rx="0.80" fill="#fff" fill-opacity="0.35" filter="url(#b1)"/>
<rect x="292.20" y="237.60" width="5.00" height="1.60" rx="0.80" fill="#fff" fill-opacity="0.35" filter="url(#b1)"/>
<rect x="287.95" y="236.5" width="1.2" height="11.0" fill="#fff" fill-opacity="0.9" filter="url(#bt)"/>
<rect x="279.15" y="255.40" width="7.50" height="1.50" rx="0.75" fill="#000" fill-opacity="0.88" filter="url(#b1)"/>
<rect x="290.45" y="255.90" width="7.50" height="1.50" rx="0.75" fill="#000" fill-opacity="0.55" filter="url(#b1)"/>
<rect x="277.60" y="265.60" width="10.60" height="10.00" rx="3.20" fill="#000" fill-opacity="0.97" filter="url(#b1)"/>
<rect x="288.90" y="265.60" width="10.60" height="10.00" rx="3.20" fill="#000" fill-opacity="0.97" filter="url(#b1)"/>
<rect x="287.95" y="265" width="1.2" height="11.5" fill="#fff" fill-opacity="0.7" filter="url(#bt)"/>
<rect x="279.20" y="281.30" width="6.60" height="2.30" rx="1.20" fill="#000" fill-opacity="0.7" filter="url(#b1)"/>
<rect x="279.30" y="282.50" width="2.00" height="2.30" rx="0.80" fill="#000" fill-opacity="0.5" filter="url(#b1)"/>
<rect x="278.70" y="295.80" width="8.40" height="1.60" rx="0.80" fill="#000" fill-opacity="0.92" filter="url(#b1)"/>
<rect x="290.00" y="295.80" width="8.40" height="1.60" rx="0.80" fill="#000" fill-opacity="0.88" filter="url(#b1)"/>
<rect x="278.70" y="299.30" width="8.40" height="1.20" rx="0.60" fill="#000" fill-opacity="0.18" filter="url(#b1)"/>
<rect x="290.00" y="299.30" width="8.40" height="1.20" rx="0.60" fill="#000" fill-opacity="0.18" filter="url(#b1)"/>
<rect x="278.50" y="310.00" width="8.80" height="3.60" rx="1.00" fill="#000" fill-opacity="0.96" filter="url(#b1)"/>
<rect x="289.80" y="310.00" width="8.80" height="3.60" rx="1.00" fill="#000" fill-opacity="0.95" filter="url(#b1)"/>
<rect x="278.60" y="313.20" width="8.60" height="3.40" rx="1.00" fill="#000" fill-opacity="0.4" filter="url(#b1)"/>
<rect x="289.90" y="313.20" width="8.60" height="3.40" rx="1.00" fill="#000" fill-opacity="0.35" filter="url(#b1)"/>
<rect x="278.20" y="325.90" width="9.40" height="2.10" rx="1.00" fill="#000" fill-opacity="0.95" filter="url(#b1)"/>
<rect x="289.50" y="325.90" width="9.40" height="2.10" rx="1.00" fill="#000" fill-opacity="0.95" filter="url(#b1)"/>
<rect x="278.60" y="328.40" width="8.60" height="2.00" rx="1.00" fill="#000" fill-opacity="0.25" filter="url(#b1)"/>
<rect x="289.90" y="328.40" width="8.60" height="2.00" rx="1.00" fill="#000" fill-opacity="0.25" filter="url(#b1)"/>
<rect x="278.20" y="337.20" width="9.40" height="2.40" rx="1.00" fill="#000" fill-opacity="0.4" filter="url(#b1)"/>
<rect x="289.50" y="337.20" width="9.40" height="2.40" rx="1.00" fill="#000" fill-opacity="0.4" filter="url(#b1)"/>
<rect x="278.10" y="339.20" width="9.60" height="4.40" rx="1.00" fill="#000" fill-opacity="0.85" filter="url(#b1)"/>
<rect x="289.40" y="339.20" width="9.60" height="4.40" rx="1.00" fill="#000" fill-opacity="0.85" filter="url(#b1)"/>
<rect x="277.30" y="350.00" width="21.60" height="10.60" rx="0.80" fill="#000" fill-opacity="0.9" filter="url(#b1)"/>
<rect x="277.60" y="350.50" width="21.00" height="1.80" rx="0.50" fill="#fff" fill-opacity="0.55" filter="url(#b1)"/>
<rect x="277.60" y="354.20" width="21.00" height="2.00" rx="0.50" fill="#fff" fill-opacity="0.3" filter="url(#b1)"/>
<rect x="287.95" y="349.5" width="1.2" height="11.5" fill="#fff" fill-opacity="0.9" filter="url(#bt)"/>
<rect x="278.40" y="365.50" width="9.00" height="2.40" rx="1.00" fill="#000" fill-opacity="0.9" filter="url(#b1)"/>
<rect x="289.70" y="365.50" width="9.00" height="2.40" rx="1.00" fill="#000" fill-opacity="0.55" filter="url(#b1)"/>
<rect x="278.40" y="369.40" width="9.00" height="2.80" rx="1.00" fill="#000" fill-opacity="0.92" filter="url(#b1)"/>
<rect x="289.70" y="369.40" width="9.00" height="2.80" rx="1.00" fill="#000" fill-opacity="0.5" filter="url(#b1)"/>
<rect x="277.30" y="377.80" width="21.60" height="10.20" rx="0.80" fill="#000" fill-opacity="0.95" filter="url(#b1)"/>
<rect x="278.10" y="378.60" width="20.00" height="1.60" rx="0.50" fill="#fff" fill-opacity="0.5" filter="url(#b1)"/>
<rect x="287.95" y="377.5" width="1.2" height="11.0" fill="#fff" fill-opacity="0.9" filter="url(#bt)"/>
<rect x="335.80" y="210.60" width="9.20" height="3.00" rx="1.00" fill="#000" fill-opacity="0.97" filter="url(#b1)"/>
<rect x="347.10" y="210.60" width="9.20" height="3.00" rx="1.00" fill="#000" fill-opacity="0.95" filter="url(#b1)"/>
<rect x="335.80" y="213.60" width="9.20" height="2.40" rx="1.00" fill="#000" fill-opacity="0.6" filter="url(#b1)"/>
<rect x="347.10" y="213.60" width="9.20" height="2.40" rx="1.00" fill="#000" fill-opacity="0.2" filter="url(#b1)"/>
<rect x="336.60" y="226.40" width="7.60" height="2.00" rx="1.00" fill="#000" fill-opacity="0.92" filter="url(#b1)"/>
<rect x="347.90" y="226.40" width="7.60" height="2.00" rx="1.00" fill="#000" fill-opacity="0.3" filter="url(#b1)"/>
<rect x="335.10" y="236.60" width="10.60" height="10.80" rx="1.50" fill="#000" fill-opacity="0.97" filter="url(#b1)"/>
<rect x="346.40" y="236.60" width="10.60" height="10.80" rx="1.50" fill="#000" fill-opacity="0.97" filter="url(#b1)"/>
<rect x="335.40" y="244.00" width="10.00" height="3.40" rx="1.00" fill="#fff" fill-opacity="0.4" filter="url(#b1)"/>
<rect x="345.45" y="236" width="1.2" height="12" fill="#fff" fill-opacity="0.8" filter="url(#bt)"/>
<rect x="336.40" y="255.80" width="8.00" height="1.90" rx="0.95" fill="#000" fill-opacity="0.88" filter="url(#b1)"/>
<rect x="347.70" y="255.80" width="8.00" height="1.90" rx="0.95" fill="#000" fill-opacity="0.35" filter="url(#b1)"/>
<rect x="334.40" y="268.00" width="10.80" height="6.00" rx="1.50" fill="#000" fill-opacity="0.9" filter="url(#b1)"/>
<rect x="334.80" y="269.00" width="10.00" height="3.00" rx="1.00" fill="#000" fill-opacity="0.95" filter="url(#b1)"/>
<rect x="347.10" y="267.40" width="9.20" height="8.80" rx="3.50" fill="#000" fill-opacity="0.92" filter="url(#b1)"/>
<rect x="349.20" y="267.60" width="5.00" height="2.00" rx="1.00" fill="#fff" fill-opacity="0.3" filter="url(#b1)"/>
<rect x="336.80" y="282.30" width="7.20" height="2.00" rx="1.00" fill="#000" fill-opacity="0.92" filter="url(#b1)"/>
<rect x="348.10" y="282.30" width="7.20" height="2.00" rx="1.00" fill="#000" fill-opacity="0.05" filter="url(#b1)"/>
<rect x="335.30" y="296.70" width="20.60" height="1.70" rx="0.60" fill="#000" fill-opacity="0.92" filter="url(#b1)"/>
<rect x="335.10" y="300.30" width="21.00" height="1.20" rx="0.50" fill="#000" fill-opacity="0.18" filter="url(#b1)"/>
<rect x="335.70" y="309.40" width="9.40" height="4.60" rx="1.00" fill="#000" fill-opacity="0.95" filter="url(#b1)"/>
<rect x="347.40" y="310.40" width="8.60" height="3.60" rx="1.00" fill="#000" fill-opacity="0.92" filter="url(#b1)"/>
<rect x="335.90" y="313.60" width="9.00" height="2.00" rx="1.00" fill="#000" fill-opacity="0.5" filter="url(#b1)"/>
<rect x="347.60" y="313.60" width="8.20" height="2.00" rx="1.00" fill="#000" fill-opacity="0.35" filter="url(#b1)"/>
<rect x="335.80" y="325.00" width="9.20" height="1.90" rx="0.95" fill="#000" fill-opacity="0.92" filter="url(#b1)"/>
<rect x="347.10" y="325.00" width="9.20" height="1.90" rx="0.95" fill="#000" fill-opacity="0.92" filter="url(#b1)"/>
<rect x="335.80" y="328.60" width="9.20" height="1.20" rx="0.60" fill="#000" fill-opacity="0.35" filter="url(#b1)"/>
<rect x="347.10" y="328.60" width="9.20" height="1.20" rx="0.60" fill="#000" fill-opacity="0.35" filter="url(#b1)"/>
<rect x="335.70" y="339.40" width="9.40" height="4.70" rx="1.00" fill="#000" fill-opacity="0.95" filter="url(#b1)"/>
<rect x="347.00" y="339.40" width="9.40" height="4.70" rx="1.00" fill="#000" fill-opacity="0.95" filter="url(#b1)"/>
<rect x="335.90" y="337.50" width="9.00" height="2.10" rx="1.00" fill="#000" fill-opacity="0.3" filter="url(#b1)"/>
<rect x="347.20" y="337.50" width="9.00" height="2.10" rx="1.00" fill="#000" fill-opacity="0.3" filter="url(#b1)"/>
<rect x="334.80" y="349.80" width="21.60" height="9.60" rx="0.80" fill="#000" fill-opacity="0.97" filter="url(#b1)"/>
<rect x="335.10" y="350.20" width="21.00" height="1.40" rx="0.50" fill="#fff" fill-opacity="0.45" filter="url(#b1)"/>
<rect x="345.45" y="349.5" width="1.2" height="11.0" fill="#fff" fill-opacity="0.9" filter="url(#bt)"/>
<rect x="336.00" y="365.80" width="8.80" height="5.00" rx="1.00" fill="#000" fill-opacity="0.8" filter="url(#b1)"/>
<rect x="347.30" y="366.60" width="8.80" height="4.80" rx="1.00" fill="#000" fill-opacity="0.3" filter="url(#b1)"/>
<rect x="337.40" y="367.60" width="6.00" height="1.00" rx="0.50" fill="#fff" fill-opacity="0.25" filter="url(#b1)"/>
<rect x="334.90" y="379.40" width="21.40" height="7.00" rx="3.00" fill="#000" fill-opacity="0.97" filter="url(#b1)"/>
<rect x="338.10" y="379.20" width="15.00" height="1.80" rx="1.00" fill="#fff" fill-opacity="0.45" filter="url(#b1)"/>
<rect x="392.40" y="209.20" width="9.20" height="6.40" rx="1.00" fill="#000" fill-opacity="0.95" filter="url(#b1)"/>
<rect x="403.70" y="209.20" width="9.20" height="6.40" rx="1.00" fill="#000" fill-opacity="0.95" filter="url(#b1)"/>
<rect x="391.70" y="211.80" width="21.00" height="1.00" rx="0.50" fill="#fff" fill-opacity="0.35" filter="url(#b1)"/>
<rect x="402.05" y="208.5" width="1.2" height="8.0" fill="#fff" fill-opacity="0.9" filter="url(#bt)"/>
<rect x="392.50" y="224.00" width="8.20" height="6.20" rx="1.20" fill="#000" fill-opacity="0.96" filter="url(#b1)"/>
<rect x="392.10" y="237.30" width="9.80" height="8.00" rx="1.00" fill="#000" fill-opacity="0.93" filter="url(#b1)"/>
<rect x="403.40" y="237.30" width="9.80" height="8.00" rx="1.00" fill="#000" fill-opacity="0.93" filter="url(#b1)"/>
<rect x="402.05" y="236.5" width="1.2" height="10.0" fill="#fff" fill-opacity="0.9" filter="url(#bt)"/>
<rect x="393.50" y="255.30" width="7.00" height="1.80" rx="0.90" fill="#000" fill-opacity="0.88" filter="url(#b1)"/>
<rect x="404.80" y="255.30" width="7.00" height="1.80" rx="0.90" fill="#000" fill-opacity="0.2" filter="url(#b1)"/>
<rect x="392.60" y="268.00" width="8.80" height="1.60" rx="0.80" fill="#000" fill-opacity="0.4" filter="url(#b1)"/>
<rect x="403.90" y="268.00" width="8.80" height="1.60" rx="0.80" fill="#000" fill-opacity="0.35" filter="url(#b1)"/>
<rect x="392.80" y="269.50" width="8.40" height="6.20" rx="1.00" fill="#000" fill-opacity="0.95" filter="url(#b1)"/>
<rect x="404.20" y="269.60" width="8.20" height="5.60" rx="1.00" fill="#000" fill-opacity="0.9" filter="url(#b1)"/>
<rect x="393.20" y="283.00" width="7.60" height="1.90" rx="0.95" fill="#000" fill-opacity="0.9" filter="url(#b1)"/>
<rect x="404.50" y="283.00" width="7.60" height="1.90" rx="0.95" fill="#000" fill-opacity="0.2" filter="url(#b1)"/>
<rect x="391.90" y="297.20" width="20.60" height="1.80" rx="0.60" fill="#000" fill-opacity="0.94" filter="url(#b1)"/>
<rect x="391.70" y="300.20" width="21.00" height="1.00" rx="0.50" fill="#000" fill-opacity="0.18" filter="url(#b1)"/>
<rect x="392.50" y="307.60" width="8.60" height="8.40" rx="1.00" fill="#000" fill-opacity="0.95" filter="url(#b1)"/>
<rect x="394.40" y="307.20" width="1.20" height="1.40" rx="0.50" fill="#fff" fill-opacity="0.8" filter="url(#b1)"/>
<rect x="398.40" y="307.20" width="1.20" height="1.40" rx="0.50" fill="#fff" fill-opacity="0.8" filter="url(#b1)"/>
<rect x="404.20" y="309.60" width="8.20" height="4.80" rx="1.50" fill="#000" fill-opacity="0.7" filter="url(#b1)"/>
<rect x="405.30" y="310.80" width="6.00" height="2.60" rx="1.00" fill="#000" fill-opacity="0.4" filter="url(#b1)"/>
<rect x="392.60" y="325.60" width="8.80" height="1.80" rx="0.90" fill="#000" fill-opacity="0.93" filter="url(#b1)"/>
<rect x="403.90" y="325.60" width="8.80" height="1.80" rx="0.90" fill="#000" fill-opacity="0.93" filter="url(#b1)"/>
<rect x="392.60" y="328.80" width="8.80" height="1.20" rx="0.60" fill="#000" fill-opacity="0.3" filter="url(#b1)"/>
<rect x="403.90" y="328.80" width="8.80" height="1.20" rx="0.60" fill="#000" fill-opacity="0.3" filter="url(#b1)"/>
<rect x="392.40" y="339.30" width="9.20" height="4.20" rx="1.00" fill="#000" fill-opacity="0.95" filter="url(#b1)"/>
<rect x="403.70" y="340.00" width="9.20" height="3.50" rx="1.00" fill="#000" fill-opacity="0.78" filter="url(#b1)"/>
<rect x="392.40" y="352.60" width="9.20" height="2.90" rx="1.00" fill="#000" fill-opacity="0.88" filter="url(#b1)"/>
<rect x="403.70" y="352.60" width="9.20" height="2.90" rx="1.00" fill="#000" fill-opacity="0.85" filter="url(#b1)"/>
<rect x="392.40" y="356.30" width="9.20" height="2.70" rx="1.00" fill="#000" fill-opacity="0.88" filter="url(#b1)"/>
<rect x="403.70" y="356.30" width="9.20" height="2.70" rx="1.00" fill="#000" fill-opacity="0.85" filter="url(#b1)"/>
<rect x="392.40" y="355.20" width="9.20" height="1.40" rx="0.70" fill="#000" fill-opacity="0.45" filter="url(#b1)"/>
<rect x="403.70" y="355.20" width="9.20" height="1.40" rx="0.70" fill="#000" fill-opacity="0.45" filter="url(#b1)"/>
<rect x="392.70" y="365.40" width="8.60" height="1.70" rx="0.85" fill="#000" fill-opacity="0.9" filter="url(#b1)"/>
<rect x="404.00" y="365.40" width="8.60" height="1.70" rx="0.85" fill="#000" fill-opacity="0.35" filter="url(#b1)"/>
<rect x="392.70" y="369.60" width="8.60" height="2.00" rx="1.00" fill="#000" fill-opacity="0.9" filter="url(#b1)"/>
<rect x="404.00" y="369.60" width="8.60" height="2.00" rx="1.00" fill="#000" fill-opacity="0.35" filter="url(#b1)"/>
<rect x="391.50" y="379.40" width="21.40" height="7.00" rx="3.00" fill="#000" fill-opacity="0.97" filter="url(#b1)"/>
<rect x="393.20" y="379.20" width="14.00" height="1.80" rx="1.00" fill="#fff" fill-opacity="0.45" filter="url(#b1)"/>
</svg></body></html>
